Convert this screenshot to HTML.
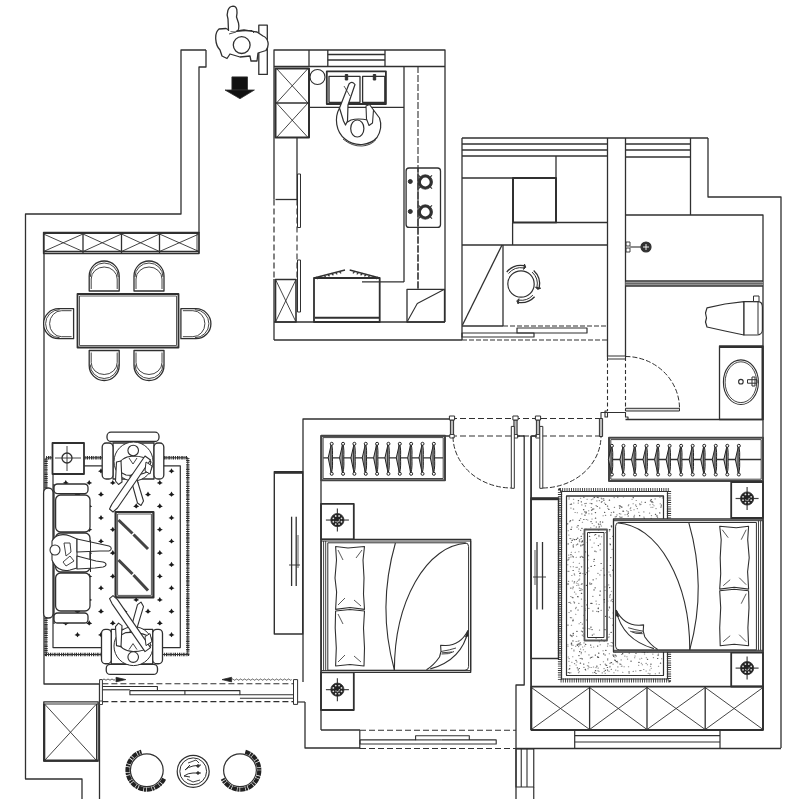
<!DOCTYPE html>
<html><head><meta charset="utf-8">
<style>
html,body{margin:0;padding:0;background:#fff;width:800px;height:799px;overflow:hidden;font-family:"Liberation Sans",sans-serif;}
svg{display:block}
</style></head>
<body>
<svg width="800" height="799" viewBox="0 0 800 799">
<g fill="none" stroke="#303030" stroke-width="1.3" stroke-linejoin="round" stroke-linecap="butt">
<polyline points="206,50 181,50 181,214 25.5,214 25.5,779 82,779 82,799"/>
<polyline points="206,50 206,67 199,67 199,233"/>
<polyline points="44,233 44,684 99.5,684"/>
<line x1="99.5" y1="684" x2="99.5" y2="799"/>
<polyline points="274,199.5 274,50 445,50 445,322"/>
<line x1="274" y1="279" x2="274" y2="340"/>
<line x1="274" y1="66.5" x2="445" y2="66.5"/>
<line x1="309" y1="50" x2="309" y2="66.5"/>
<line x1="327.8" y1="50" x2="327.8" y2="66.5"/>
<line x1="385" y1="50" x2="385" y2="66.5"/>
<line x1="327.8" y1="54.5" x2="385" y2="54.5"/>
<line x1="327.8" y1="60" x2="385" y2="60"/>
<line x1="274" y1="322" x2="445" y2="322"/>
<line x1="274" y1="340" x2="462" y2="340"/>
<line x1="462" y1="138" x2="462" y2="340"/>
<line x1="462" y1="138" x2="708" y2="138"/>
<line x1="462" y1="144" x2="607.5" y2="144"/>
<line x1="462" y1="150" x2="607.5" y2="150"/>
<line x1="462" y1="156" x2="607.5" y2="156"/>
<line x1="607.5" y1="138" x2="607.5" y2="357"/>
<line x1="625.5" y1="138" x2="625.5" y2="357"/>
<line x1="625.5" y1="144" x2="690.5" y2="144"/>
<line x1="625.5" y1="150" x2="690.5" y2="150"/>
<line x1="625.5" y1="157" x2="690.5" y2="157"/>
<line x1="690.5" y1="138" x2="690.5" y2="215"/>
<polyline points="708,138 708,197 781,197 781,748"/>
<polyline points="625.5,215 763,215 763,419.5"/>
<line x1="625.5" y1="419.5" x2="763" y2="419.5"/>
<polyline points="303,682 303,419 451,419"/>
<polyline points="321,730 321,436 451,436"/>
<line x1="531" y1="436" x2="531" y2="730"/>
<polyline points="305,702 305,748 360,748"/>
<line x1="321" y1="730" x2="360" y2="730"/>
<line x1="516" y1="748.5" x2="781" y2="748.5"/>
<line x1="531" y1="730" x2="763" y2="730"/>
<line x1="763" y1="419" x2="763" y2="730"/>
<rect x="43.5" y="232.5" width="155.5" height="21.0"/>
<line x1="43.5" y1="233" x2="199" y2="233" stroke-width="2.0"/>
<line x1="197" y1="233" x2="197" y2="252" stroke-width="0.9"/>
<line x1="43.5" y1="251.5" x2="199" y2="251.5"/>
<line x1="43.5" y1="234" x2="83" y2="251.5" stroke-width="0.9"/>
<line x1="43.5" y1="251.5" x2="83" y2="234" stroke-width="0.9"/>
<line x1="83" y1="232.5" x2="83" y2="253.5"/>
<line x1="83" y1="234" x2="121.5" y2="251.5" stroke-width="0.9"/>
<line x1="83" y1="251.5" x2="121.5" y2="234" stroke-width="0.9"/>
<line x1="121.5" y1="232.5" x2="121.5" y2="253.5"/>
<line x1="121.5" y1="234" x2="159.5" y2="251.5" stroke-width="0.9"/>
<line x1="121.5" y1="251.5" x2="159.5" y2="234" stroke-width="0.9"/>
<line x1="159.5" y1="232.5" x2="159.5" y2="253.5"/>
<line x1="159.5" y1="234" x2="199" y2="251.5" stroke-width="0.9"/>
<line x1="159.5" y1="251.5" x2="199" y2="234" stroke-width="0.9"/>
<line x1="199" y1="232.5" x2="199" y2="253.5"/>
<rect x="77.5" y="294" width="101.0" height="53.5" stroke-width="1.8"/>
<rect x="79.5" y="296" width="97.0" height="49.5" stroke-width="0.8"/>
<g transform="translate(104.2,276) rotate(0)"><path d="M-15,15 L-15,0 A15,15 0 0 1 15,0 L15,15 Z" fill="#fff"/><path d="M-13,13 L-13,3 A13,12 0 0 1 13,3 L13,13" stroke-width="0.9"/><path d="M-14,1 A14,14 0 0 1 14,1" stroke-width="0.9"/></g>
<g transform="translate(149,276) rotate(0)"><path d="M-15,15 L-15,0 A15,15 0 0 1 15,0 L15,15 Z" fill="#fff"/><path d="M-13,13 L-13,3 A13,12 0 0 1 13,3 L13,13" stroke-width="0.9"/><path d="M-14,1 A14,14 0 0 1 14,1" stroke-width="0.9"/></g>
<g transform="translate(104.2,365.5) rotate(180)"><path d="M-15,15 L-15,0 A15,15 0 0 1 15,0 L15,15 Z" fill="#fff"/><path d="M-13,13 L-13,3 A13,12 0 0 1 13,3 L13,13" stroke-width="0.9"/><path d="M-14,1 A14,14 0 0 1 14,1" stroke-width="0.9"/></g>
<g transform="translate(149,365.5) rotate(180)"><path d="M-15,15 L-15,0 A15,15 0 0 1 15,0 L15,15 Z" fill="#fff"/><path d="M-13,13 L-13,3 A13,12 0 0 1 13,3 L13,13" stroke-width="0.9"/><path d="M-14,1 A14,14 0 0 1 14,1" stroke-width="0.9"/></g>
<g transform="translate(58.6,323.7) rotate(-90)"><path d="M-15,15 L-15,0 A15,15 0 0 1 15,0 L15,15 Z" fill="#fff"/><path d="M-13,13 L-13,3 A13,12 0 0 1 13,3 L13,13" stroke-width="0.9"/><path d="M-14,1 A14,14 0 0 1 14,1" stroke-width="0.9"/></g>
<g transform="translate(195.9,323.7) rotate(90)"><path d="M-15,15 L-15,0 A15,15 0 0 1 15,0 L15,15 Z" fill="#fff"/><path d="M-13,13 L-13,3 A13,12 0 0 1 13,3 L13,13" stroke-width="0.9"/><path d="M-14,1 A14,14 0 0 1 14,1" stroke-width="0.9"/></g>
<path d="M46,457.8 L187.8,457.8 L187.8,654.5 L46,654.5 Z" stroke-width="3.4" stroke-dasharray="0.9 1.1 1.4 0.9" stroke="#2a2a2a"/>
<path d="M46,457.8 L187.8,457.8 L187.8,654.5 L46,654.5 Z" stroke-width="1.0" stroke="#333"/>
<rect x="53" y="465.8" width="127.3" height="181.8" stroke-width="1.2"/>
<path d="M74.5,471.3 Q76.7,470.5 77.5,468.2 Q78.3,470.5 80.5,471.3 Q78.3,471.8 77.5,473.4 Q76.7,471.8 74.5,471.3 Z" fill="#1a1a1a" stroke="none"/>
<path d="M98.0,471.3 Q100.2,470.5 101.0,468.2 Q101.8,470.5 104.0,471.3 Q101.8,471.8 101.0,473.4 Q100.2,471.8 98.0,471.3 Z" fill="#1a1a1a" stroke="none"/>
<path d="M121.5,471.3 Q123.7,470.5 124.5,468.2 Q125.3,470.5 127.5,471.3 Q125.3,471.8 124.5,473.4 Q123.7,471.8 121.5,471.3 Z" fill="#1a1a1a" stroke="none"/>
<path d="M145.0,471.3 Q147.2,470.5 148.0,468.2 Q148.8,470.5 151.0,471.3 Q148.8,471.8 148.0,473.4 Q147.2,471.8 145.0,471.3 Z" fill="#1a1a1a" stroke="none"/>
<path d="M168.5,471.3 Q170.7,470.5 171.5,468.2 Q172.3,470.5 174.5,471.3 Q172.3,471.8 171.5,473.4 Q170.7,471.8 168.5,471.3 Z" fill="#1a1a1a" stroke="none"/>
<path d="M62.8,483.0 Q65.0,482.2 65.8,479.9 Q66.6,482.2 68.8,483.0 Q66.6,483.5 65.8,485.09999999999997 Q65.0,483.5 62.8,483.0 Z" fill="#1a1a1a" stroke="none"/>
<path d="M86.2,483.0 Q88.4,482.2 89.2,479.9 Q90.0,482.2 92.2,483.0 Q90.0,483.5 89.2,485.09999999999997 Q88.4,483.5 86.2,483.0 Z" fill="#1a1a1a" stroke="none"/>
<path d="M109.8,483.0 Q112.0,482.2 112.8,479.9 Q113.6,482.2 115.8,483.0 Q113.6,483.5 112.8,485.09999999999997 Q112.0,483.5 109.8,483.0 Z" fill="#1a1a1a" stroke="none"/>
<path d="M133.2,483.0 Q135.39999999999998,482.2 136.2,479.9 Q137.0,482.2 139.2,483.0 Q137.0,483.5 136.2,485.09999999999997 Q135.39999999999998,483.5 133.2,483.0 Z" fill="#1a1a1a" stroke="none"/>
<path d="M156.8,483.0 Q159.0,482.2 159.8,479.9 Q160.60000000000002,482.2 162.8,483.0 Q160.60000000000002,483.5 159.8,485.09999999999997 Q159.0,483.5 156.8,483.0 Z" fill="#1a1a1a" stroke="none"/>
<path d="M74.5,494.7 Q76.7,493.9 77.5,491.59999999999997 Q78.3,493.9 80.5,494.7 Q78.3,495.2 77.5,496.79999999999995 Q76.7,495.2 74.5,494.7 Z" fill="#1a1a1a" stroke="none"/>
<path d="M98.0,494.7 Q100.2,493.9 101.0,491.59999999999997 Q101.8,493.9 104.0,494.7 Q101.8,495.2 101.0,496.79999999999995 Q100.2,495.2 98.0,494.7 Z" fill="#1a1a1a" stroke="none"/>
<path d="M121.5,494.7 Q123.7,493.9 124.5,491.59999999999997 Q125.3,493.9 127.5,494.7 Q125.3,495.2 124.5,496.79999999999995 Q123.7,495.2 121.5,494.7 Z" fill="#1a1a1a" stroke="none"/>
<path d="M145.0,494.7 Q147.2,493.9 148.0,491.59999999999997 Q148.8,493.9 151.0,494.7 Q148.8,495.2 148.0,496.79999999999995 Q147.2,495.2 145.0,494.7 Z" fill="#1a1a1a" stroke="none"/>
<path d="M168.5,494.7 Q170.7,493.9 171.5,491.59999999999997 Q172.3,493.9 174.5,494.7 Q172.3,495.2 171.5,496.79999999999995 Q170.7,495.2 168.5,494.7 Z" fill="#1a1a1a" stroke="none"/>
<path d="M62.8,506.40000000000003 Q65.0,505.6 65.8,503.3 Q66.6,505.6 68.8,506.40000000000003 Q66.6,506.90000000000003 65.8,508.5 Q65.0,506.90000000000003 62.8,506.40000000000003 Z" fill="#1a1a1a" stroke="none"/>
<path d="M86.2,506.40000000000003 Q88.4,505.6 89.2,503.3 Q90.0,505.6 92.2,506.40000000000003 Q90.0,506.90000000000003 89.2,508.5 Q88.4,506.90000000000003 86.2,506.40000000000003 Z" fill="#1a1a1a" stroke="none"/>
<path d="M109.8,506.40000000000003 Q112.0,505.6 112.8,503.3 Q113.6,505.6 115.8,506.40000000000003 Q113.6,506.90000000000003 112.8,508.5 Q112.0,506.90000000000003 109.8,506.40000000000003 Z" fill="#1a1a1a" stroke="none"/>
<path d="M133.2,506.40000000000003 Q135.39999999999998,505.6 136.2,503.3 Q137.0,505.6 139.2,506.40000000000003 Q137.0,506.90000000000003 136.2,508.5 Q135.39999999999998,506.90000000000003 133.2,506.40000000000003 Z" fill="#1a1a1a" stroke="none"/>
<path d="M156.8,506.40000000000003 Q159.0,505.6 159.8,503.3 Q160.60000000000002,505.6 162.8,506.40000000000003 Q160.60000000000002,506.90000000000003 159.8,508.5 Q159.0,506.90000000000003 156.8,506.40000000000003 Z" fill="#1a1a1a" stroke="none"/>
<path d="M74.5,518.0999999999999 Q76.7,517.3 77.5,515.0 Q78.3,517.3 80.5,518.0999999999999 Q78.3,518.5999999999999 77.5,520.1999999999999 Q76.7,518.5999999999999 74.5,518.0999999999999 Z" fill="#1a1a1a" stroke="none"/>
<path d="M98.0,518.0999999999999 Q100.2,517.3 101.0,515.0 Q101.8,517.3 104.0,518.0999999999999 Q101.8,518.5999999999999 101.0,520.1999999999999 Q100.2,518.5999999999999 98.0,518.0999999999999 Z" fill="#1a1a1a" stroke="none"/>
<path d="M121.5,518.0999999999999 Q123.7,517.3 124.5,515.0 Q125.3,517.3 127.5,518.0999999999999 Q125.3,518.5999999999999 124.5,520.1999999999999 Q123.7,518.5999999999999 121.5,518.0999999999999 Z" fill="#1a1a1a" stroke="none"/>
<path d="M145.0,518.0999999999999 Q147.2,517.3 148.0,515.0 Q148.8,517.3 151.0,518.0999999999999 Q148.8,518.5999999999999 148.0,520.1999999999999 Q147.2,518.5999999999999 145.0,518.0999999999999 Z" fill="#1a1a1a" stroke="none"/>
<path d="M168.5,518.0999999999999 Q170.7,517.3 171.5,515.0 Q172.3,517.3 174.5,518.0999999999999 Q172.3,518.5999999999999 171.5,520.1999999999999 Q170.7,518.5999999999999 168.5,518.0999999999999 Z" fill="#1a1a1a" stroke="none"/>
<path d="M62.8,529.8 Q65.0,529.0 65.8,526.7 Q66.6,529.0 68.8,529.8 Q66.6,530.3 65.8,531.9 Q65.0,530.3 62.8,529.8 Z" fill="#1a1a1a" stroke="none"/>
<path d="M86.2,529.8 Q88.4,529.0 89.2,526.7 Q90.0,529.0 92.2,529.8 Q90.0,530.3 89.2,531.9 Q88.4,530.3 86.2,529.8 Z" fill="#1a1a1a" stroke="none"/>
<path d="M109.8,529.8 Q112.0,529.0 112.8,526.7 Q113.6,529.0 115.8,529.8 Q113.6,530.3 112.8,531.9 Q112.0,530.3 109.8,529.8 Z" fill="#1a1a1a" stroke="none"/>
<path d="M133.2,529.8 Q135.39999999999998,529.0 136.2,526.7 Q137.0,529.0 139.2,529.8 Q137.0,530.3 136.2,531.9 Q135.39999999999998,530.3 133.2,529.8 Z" fill="#1a1a1a" stroke="none"/>
<path d="M156.8,529.8 Q159.0,529.0 159.8,526.7 Q160.60000000000002,529.0 162.8,529.8 Q160.60000000000002,530.3 159.8,531.9 Q159.0,530.3 156.8,529.8 Z" fill="#1a1a1a" stroke="none"/>
<path d="M74.5,541.5 Q76.7,540.7 77.5,538.4000000000001 Q78.3,540.7 80.5,541.5 Q78.3,542.0 77.5,543.6 Q76.7,542.0 74.5,541.5 Z" fill="#1a1a1a" stroke="none"/>
<path d="M98.0,541.5 Q100.2,540.7 101.0,538.4000000000001 Q101.8,540.7 104.0,541.5 Q101.8,542.0 101.0,543.6 Q100.2,542.0 98.0,541.5 Z" fill="#1a1a1a" stroke="none"/>
<path d="M121.5,541.5 Q123.7,540.7 124.5,538.4000000000001 Q125.3,540.7 127.5,541.5 Q125.3,542.0 124.5,543.6 Q123.7,542.0 121.5,541.5 Z" fill="#1a1a1a" stroke="none"/>
<path d="M145.0,541.5 Q147.2,540.7 148.0,538.4000000000001 Q148.8,540.7 151.0,541.5 Q148.8,542.0 148.0,543.6 Q147.2,542.0 145.0,541.5 Z" fill="#1a1a1a" stroke="none"/>
<path d="M168.5,541.5 Q170.7,540.7 171.5,538.4000000000001 Q172.3,540.7 174.5,541.5 Q172.3,542.0 171.5,543.6 Q170.7,542.0 168.5,541.5 Z" fill="#1a1a1a" stroke="none"/>
<path d="M62.8,553.1999999999999 Q65.0,552.4 65.8,550.1 Q66.6,552.4 68.8,553.1999999999999 Q66.6,553.6999999999999 65.8,555.3 Q65.0,553.6999999999999 62.8,553.1999999999999 Z" fill="#1a1a1a" stroke="none"/>
<path d="M86.2,553.1999999999999 Q88.4,552.4 89.2,550.1 Q90.0,552.4 92.2,553.1999999999999 Q90.0,553.6999999999999 89.2,555.3 Q88.4,553.6999999999999 86.2,553.1999999999999 Z" fill="#1a1a1a" stroke="none"/>
<path d="M109.8,553.1999999999999 Q112.0,552.4 112.8,550.1 Q113.6,552.4 115.8,553.1999999999999 Q113.6,553.6999999999999 112.8,555.3 Q112.0,553.6999999999999 109.8,553.1999999999999 Z" fill="#1a1a1a" stroke="none"/>
<path d="M133.2,553.1999999999999 Q135.39999999999998,552.4 136.2,550.1 Q137.0,552.4 139.2,553.1999999999999 Q137.0,553.6999999999999 136.2,555.3 Q135.39999999999998,553.6999999999999 133.2,553.1999999999999 Z" fill="#1a1a1a" stroke="none"/>
<path d="M156.8,553.1999999999999 Q159.0,552.4 159.8,550.1 Q160.60000000000002,552.4 162.8,553.1999999999999 Q160.60000000000002,553.6999999999999 159.8,555.3 Q159.0,553.6999999999999 156.8,553.1999999999999 Z" fill="#1a1a1a" stroke="none"/>
<path d="M74.5,564.9 Q76.7,564.1 77.5,561.8000000000001 Q78.3,564.1 80.5,564.9 Q78.3,565.4 77.5,567.0 Q76.7,565.4 74.5,564.9 Z" fill="#1a1a1a" stroke="none"/>
<path d="M98.0,564.9 Q100.2,564.1 101.0,561.8000000000001 Q101.8,564.1 104.0,564.9 Q101.8,565.4 101.0,567.0 Q100.2,565.4 98.0,564.9 Z" fill="#1a1a1a" stroke="none"/>
<path d="M121.5,564.9 Q123.7,564.1 124.5,561.8000000000001 Q125.3,564.1 127.5,564.9 Q125.3,565.4 124.5,567.0 Q123.7,565.4 121.5,564.9 Z" fill="#1a1a1a" stroke="none"/>
<path d="M145.0,564.9 Q147.2,564.1 148.0,561.8000000000001 Q148.8,564.1 151.0,564.9 Q148.8,565.4 148.0,567.0 Q147.2,565.4 145.0,564.9 Z" fill="#1a1a1a" stroke="none"/>
<path d="M168.5,564.9 Q170.7,564.1 171.5,561.8000000000001 Q172.3,564.1 174.5,564.9 Q172.3,565.4 171.5,567.0 Q170.7,565.4 168.5,564.9 Z" fill="#1a1a1a" stroke="none"/>
<path d="M62.8,576.5999999999999 Q65.0,575.8 65.8,573.5 Q66.6,575.8 68.8,576.5999999999999 Q66.6,577.0999999999999 65.8,578.6999999999999 Q65.0,577.0999999999999 62.8,576.5999999999999 Z" fill="#1a1a1a" stroke="none"/>
<path d="M86.2,576.5999999999999 Q88.4,575.8 89.2,573.5 Q90.0,575.8 92.2,576.5999999999999 Q90.0,577.0999999999999 89.2,578.6999999999999 Q88.4,577.0999999999999 86.2,576.5999999999999 Z" fill="#1a1a1a" stroke="none"/>
<path d="M109.8,576.5999999999999 Q112.0,575.8 112.8,573.5 Q113.6,575.8 115.8,576.5999999999999 Q113.6,577.0999999999999 112.8,578.6999999999999 Q112.0,577.0999999999999 109.8,576.5999999999999 Z" fill="#1a1a1a" stroke="none"/>
<path d="M133.2,576.5999999999999 Q135.39999999999998,575.8 136.2,573.5 Q137.0,575.8 139.2,576.5999999999999 Q137.0,577.0999999999999 136.2,578.6999999999999 Q135.39999999999998,577.0999999999999 133.2,576.5999999999999 Z" fill="#1a1a1a" stroke="none"/>
<path d="M156.8,576.5999999999999 Q159.0,575.8 159.8,573.5 Q160.60000000000002,575.8 162.8,576.5999999999999 Q160.60000000000002,577.0999999999999 159.8,578.6999999999999 Q159.0,577.0999999999999 156.8,576.5999999999999 Z" fill="#1a1a1a" stroke="none"/>
<path d="M74.5,588.3 Q76.7,587.5 77.5,585.2 Q78.3,587.5 80.5,588.3 Q78.3,588.8 77.5,590.4 Q76.7,588.8 74.5,588.3 Z" fill="#1a1a1a" stroke="none"/>
<path d="M98.0,588.3 Q100.2,587.5 101.0,585.2 Q101.8,587.5 104.0,588.3 Q101.8,588.8 101.0,590.4 Q100.2,588.8 98.0,588.3 Z" fill="#1a1a1a" stroke="none"/>
<path d="M121.5,588.3 Q123.7,587.5 124.5,585.2 Q125.3,587.5 127.5,588.3 Q125.3,588.8 124.5,590.4 Q123.7,588.8 121.5,588.3 Z" fill="#1a1a1a" stroke="none"/>
<path d="M145.0,588.3 Q147.2,587.5 148.0,585.2 Q148.8,587.5 151.0,588.3 Q148.8,588.8 148.0,590.4 Q147.2,588.8 145.0,588.3 Z" fill="#1a1a1a" stroke="none"/>
<path d="M168.5,588.3 Q170.7,587.5 171.5,585.2 Q172.3,587.5 174.5,588.3 Q172.3,588.8 171.5,590.4 Q170.7,588.8 168.5,588.3 Z" fill="#1a1a1a" stroke="none"/>
<path d="M62.8,600.0 Q65.0,599.2 65.8,596.9000000000001 Q66.6,599.2 68.8,600.0 Q66.6,600.5 65.8,602.1 Q65.0,600.5 62.8,600.0 Z" fill="#1a1a1a" stroke="none"/>
<path d="M86.2,600.0 Q88.4,599.2 89.2,596.9000000000001 Q90.0,599.2 92.2,600.0 Q90.0,600.5 89.2,602.1 Q88.4,600.5 86.2,600.0 Z" fill="#1a1a1a" stroke="none"/>
<path d="M109.8,600.0 Q112.0,599.2 112.8,596.9000000000001 Q113.6,599.2 115.8,600.0 Q113.6,600.5 112.8,602.1 Q112.0,600.5 109.8,600.0 Z" fill="#1a1a1a" stroke="none"/>
<path d="M133.2,600.0 Q135.39999999999998,599.2 136.2,596.9000000000001 Q137.0,599.2 139.2,600.0 Q137.0,600.5 136.2,602.1 Q135.39999999999998,600.5 133.2,600.0 Z" fill="#1a1a1a" stroke="none"/>
<path d="M156.8,600.0 Q159.0,599.2 159.8,596.9000000000001 Q160.60000000000002,599.2 162.8,600.0 Q160.60000000000002,600.5 159.8,602.1 Q159.0,600.5 156.8,600.0 Z" fill="#1a1a1a" stroke="none"/>
<path d="M74.5,611.6999999999999 Q76.7,610.9 77.5,608.6 Q78.3,610.9 80.5,611.6999999999999 Q78.3,612.1999999999999 77.5,613.8 Q76.7,612.1999999999999 74.5,611.6999999999999 Z" fill="#1a1a1a" stroke="none"/>
<path d="M98.0,611.6999999999999 Q100.2,610.9 101.0,608.6 Q101.8,610.9 104.0,611.6999999999999 Q101.8,612.1999999999999 101.0,613.8 Q100.2,612.1999999999999 98.0,611.6999999999999 Z" fill="#1a1a1a" stroke="none"/>
<path d="M121.5,611.6999999999999 Q123.7,610.9 124.5,608.6 Q125.3,610.9 127.5,611.6999999999999 Q125.3,612.1999999999999 124.5,613.8 Q123.7,612.1999999999999 121.5,611.6999999999999 Z" fill="#1a1a1a" stroke="none"/>
<path d="M145.0,611.6999999999999 Q147.2,610.9 148.0,608.6 Q148.8,610.9 151.0,611.6999999999999 Q148.8,612.1999999999999 148.0,613.8 Q147.2,612.1999999999999 145.0,611.6999999999999 Z" fill="#1a1a1a" stroke="none"/>
<path d="M168.5,611.6999999999999 Q170.7,610.9 171.5,608.6 Q172.3,610.9 174.5,611.6999999999999 Q172.3,612.1999999999999 171.5,613.8 Q170.7,612.1999999999999 168.5,611.6999999999999 Z" fill="#1a1a1a" stroke="none"/>
<path d="M62.8,623.4 Q65.0,622.6 65.8,620.3000000000001 Q66.6,622.6 68.8,623.4 Q66.6,623.9 65.8,625.5 Q65.0,623.9 62.8,623.4 Z" fill="#1a1a1a" stroke="none"/>
<path d="M86.2,623.4 Q88.4,622.6 89.2,620.3000000000001 Q90.0,622.6 92.2,623.4 Q90.0,623.9 89.2,625.5 Q88.4,623.9 86.2,623.4 Z" fill="#1a1a1a" stroke="none"/>
<path d="M109.8,623.4 Q112.0,622.6 112.8,620.3000000000001 Q113.6,622.6 115.8,623.4 Q113.6,623.9 112.8,625.5 Q112.0,623.9 109.8,623.4 Z" fill="#1a1a1a" stroke="none"/>
<path d="M133.2,623.4 Q135.39999999999998,622.6 136.2,620.3000000000001 Q137.0,622.6 139.2,623.4 Q137.0,623.9 136.2,625.5 Q135.39999999999998,623.9 133.2,623.4 Z" fill="#1a1a1a" stroke="none"/>
<path d="M156.8,623.4 Q159.0,622.6 159.8,620.3000000000001 Q160.60000000000002,622.6 162.8,623.4 Q160.60000000000002,623.9 159.8,625.5 Q159.0,623.9 156.8,623.4 Z" fill="#1a1a1a" stroke="none"/>
<path d="M74.5,635.0999999999999 Q76.7,634.3 77.5,632.0 Q78.3,634.3 80.5,635.0999999999999 Q78.3,635.5999999999999 77.5,637.1999999999999 Q76.7,635.5999999999999 74.5,635.0999999999999 Z" fill="#1a1a1a" stroke="none"/>
<path d="M98.0,635.0999999999999 Q100.2,634.3 101.0,632.0 Q101.8,634.3 104.0,635.0999999999999 Q101.8,635.5999999999999 101.0,637.1999999999999 Q100.2,635.5999999999999 98.0,635.0999999999999 Z" fill="#1a1a1a" stroke="none"/>
<path d="M121.5,635.0999999999999 Q123.7,634.3 124.5,632.0 Q125.3,634.3 127.5,635.0999999999999 Q125.3,635.5999999999999 124.5,637.1999999999999 Q123.7,635.5999999999999 121.5,635.0999999999999 Z" fill="#1a1a1a" stroke="none"/>
<path d="M145.0,635.0999999999999 Q147.2,634.3 148.0,632.0 Q148.8,634.3 151.0,635.0999999999999 Q148.8,635.5999999999999 148.0,637.1999999999999 Q147.2,635.5999999999999 145.0,635.0999999999999 Z" fill="#1a1a1a" stroke="none"/>
<path d="M168.5,635.0999999999999 Q170.7,634.3 171.5,632.0 Q172.3,634.3 174.5,635.0999999999999 Q172.3,635.5999999999999 171.5,637.1999999999999 Q170.7,635.5999999999999 168.5,635.0999999999999 Z" fill="#1a1a1a" stroke="none"/>
<rect x="52.5" y="443" width="31.5" height="31" stroke-width="1.8" fill="#fff"/>
<circle cx="67" cy="458" r="5" stroke-width="1.3"/>
<line x1="55" y1="458" x2="81" y2="458" stroke-width="0.9"/>
<line x1="67" y1="446" x2="67" y2="471" stroke-width="0.9"/>
<rect x="43.6" y="488" width="9.4" height="130" stroke-width="1.3" fill="#fff" rx="4.5"/>
<line x1="54" y1="484" x2="54" y2="624"/>
<rect x="54" y="484" width="34" height="9.6" stroke-width="1.3" fill="#fff" rx="3.5"/>
<rect x="54" y="613" width="34" height="10" stroke-width="1.3" fill="#fff" rx="3.5"/>
<rect x="55.6" y="495" width="34.4" height="37" stroke-width="1.3" fill="#fff" rx="5"/>
<rect x="55.6" y="533" width="34.4" height="39" stroke-width="1.3" fill="#fff" rx="5"/>
<rect x="55.6" y="573" width="34.4" height="38" stroke-width="1.3" fill="#fff" rx="5"/>
<rect x="115.6" y="512" width="37.8" height="85.4" stroke-width="2.2" fill="#fff"/>
<rect x="117.6" y="514" width="33.8" height="81.4" stroke-width="0.8"/>
<line x1="118.5" y1="520" x2="132.5" y2="533.5" stroke-width="3.0" stroke="#444"/>
<line x1="133.5" y1="534.5" x2="148" y2="549" stroke-width="3.0" stroke="#444"/>
<line x1="118.5" y1="560" x2="132.5" y2="574" stroke-width="3.0" stroke="#444"/>
<line x1="133.5" y1="575" x2="148" y2="590.5" stroke-width="3.0" stroke="#444"/>
<rect x="107" y="432.2" width="52" height="9.3" stroke-width="1.3" fill="#fff" rx="4"/>
<path d="M113,443 L154,443 L154,479 L113,479 Z" stroke-width="1.3" fill="#fff"/>
<path d="M111.25,629.4 L152.75,629.4 L152.75,664 L111.25,664 Z" stroke-width="1.3" fill="#fff"/>
<rect x="106.25" y="664.4" width="51.25" height="10.0" stroke-width="1.3" fill="#fff" rx="4"/>
<rect x="275.5" y="68.5" width="33.5" height="69.0" stroke-width="2.0"/>
<line x1="275.5" y1="103" x2="309" y2="103" stroke-width="1.3"/>
<line x1="276.5" y1="68.5" x2="308" y2="103" stroke-width="0.9"/>
<line x1="276.5" y1="103" x2="308" y2="68.5" stroke-width="0.9"/>
<line x1="276.5" y1="103" x2="308" y2="137.5" stroke-width="0.9"/>
<line x1="276.5" y1="137.5" x2="308" y2="103" stroke-width="0.9"/>
<circle cx="317.5" cy="77" r="7.5" stroke-width="1.1"/>
<rect x="326.8" y="71.3" width="59.1" height="32.7" stroke-width="1.8"/>
<rect x="329" y="76.3" width="31" height="26.0" stroke-width="1.3"/>
<rect x="362.6" y="76.3" width="22.2" height="26.0" stroke-width="1.3"/>
<rect x="345.3" y="74.5" width="2.4" height="5.5" stroke-width="1" fill="#333"/>
<rect x="373.3" y="74.5" width="2.4" height="5.5" stroke-width="1" fill="#333"/>
<line x1="309" y1="107.3" x2="404" y2="107.3"/>
<line x1="404" y1="66" x2="404" y2="282"/>
<line x1="418" y1="66" x2="418" y2="289.3" stroke-width="1.1" stroke-dasharray="7 2"/>
<rect x="406.1" y="168" width="34.4" height="59.4" stroke-width="1.3" rx="3"/>
<circle cx="425.3" cy="182" r="5.8" stroke-width="2.8"/>
<circle cx="425.3" cy="182" r="7.2" stroke-width="0.8"/>
<line x1="429.9" y1="186.6" x2="432.02" y2="188.72" stroke-width="1.1"/>
<line x1="420.7" y1="186.6" x2="418.58" y2="188.72" stroke-width="1.1"/>
<line x1="420.7" y1="177.4" x2="418.58" y2="175.28" stroke-width="1.1"/>
<line x1="429.9" y1="177.4" x2="432.02" y2="175.28" stroke-width="1.1"/>
<circle cx="410.3" cy="181.5" r="2" stroke-width="1" fill="#333"/>
<circle cx="425.3" cy="212" r="5.8" stroke-width="2.8"/>
<circle cx="425.3" cy="212" r="7.2" stroke-width="0.8"/>
<line x1="429.9" y1="216.6" x2="432.02" y2="218.72" stroke-width="1.1"/>
<line x1="420.7" y1="216.6" x2="418.58" y2="218.72" stroke-width="1.1"/>
<line x1="420.7" y1="207.4" x2="418.58" y2="205.28" stroke-width="1.1"/>
<line x1="429.9" y1="207.4" x2="432.02" y2="205.28" stroke-width="1.1"/>
<circle cx="410.3" cy="211.5" r="2" stroke-width="1" fill="#333"/>
<line x1="418" y1="168" x2="418" y2="227.4" stroke-width="1.2"/>
<line x1="418" y1="227" x2="418" y2="289.3" stroke-width="1.1" stroke-dasharray="7 2"/>
<line x1="297" y1="137.5" x2="297" y2="199.5"/>
<line x1="275.5" y1="199.5" x2="297" y2="199.5"/>
<rect x="297.5" y="174" width="3.0" height="53.5" stroke-width="1"/>
<rect x="297.5" y="260" width="3.0" height="52" stroke-width="1"/>
<line x1="274" y1="199.5" x2="274" y2="279.5" stroke-width="1.2" stroke-dasharray="6 3"/>
<line x1="297" y1="199.5" x2="297" y2="279.5" stroke-width="1.1" stroke-dasharray="6 3"/>
<rect x="275.5" y="279.5" width="20.5" height="42.5" stroke-width="1.6"/>
<line x1="275.5" y1="279.5" x2="296" y2="322" stroke-width="0.9"/>
<line x1="275.5" y1="322" x2="296" y2="279.5" stroke-width="0.9"/>
<rect x="314" y="278" width="65.7" height="44" stroke-width="1.8" fill="#fff"/>
<line x1="315" y1="317.8" x2="379" y2="317.8" stroke-width="2"/>
<path d="M314,278 L345,270 M349.7,270 L379.7,278" stroke-width="1.3"/>
<line x1="316.0" y1="277.0" x2="318.0" y2="279.0" stroke-width="1.2"/>
<line x1="378.0" y1="277.0" x2="376.0" y2="279.0" stroke-width="1.2"/>
<line x1="319.85714285714283" y1="276.07142857142856" x2="321.85714285714283" y2="278.07142857142856" stroke-width="1.2"/>
<line x1="374.14285714285717" y1="276.07142857142856" x2="372.14285714285717" y2="278.07142857142856" stroke-width="1.2"/>
<line x1="323.7142857142857" y1="275.14285714285717" x2="325.7142857142857" y2="277.14285714285717" stroke-width="1.2"/>
<line x1="370.2857142857143" y1="275.14285714285717" x2="368.2857142857143" y2="277.14285714285717" stroke-width="1.2"/>
<line x1="327.57142857142856" y1="274.2142857142857" x2="329.57142857142856" y2="276.2142857142857" stroke-width="1.2"/>
<line x1="366.42857142857144" y1="274.2142857142857" x2="364.42857142857144" y2="276.2142857142857" stroke-width="1.2"/>
<line x1="331.42857142857144" y1="273.2857142857143" x2="333.42857142857144" y2="275.2857142857143" stroke-width="1.2"/>
<line x1="362.57142857142856" y1="273.2857142857143" x2="360.57142857142856" y2="275.2857142857143" stroke-width="1.2"/>
<line x1="335.2857142857143" y1="272.35714285714283" x2="337.2857142857143" y2="274.35714285714283" stroke-width="1.2"/>
<line x1="358.7142857142857" y1="272.35714285714283" x2="356.7142857142857" y2="274.35714285714283" stroke-width="1.2"/>
<line x1="339.14285714285717" y1="271.42857142857144" x2="341.14285714285717" y2="273.42857142857144" stroke-width="1.2"/>
<line x1="354.85714285714283" y1="271.42857142857144" x2="352.85714285714283" y2="273.42857142857144" stroke-width="1.2"/>
<line x1="362" y1="281.8" x2="404" y2="281.8"/>
<rect x="407" y="289.3" width="37.5" height="32.7" stroke-width="1.3"/>
<polyline points="444.5,289.3 417.3,303.4 407,322" stroke-width="1.1"/>
<rect x="258.8" y="25.2" width="8.5" height="49.2" stroke-width="1.3"/>
<rect x="231.9" y="76.9" width="15.6" height="13.1" stroke-width="0.8" fill="#111"/>
<path d="M225,90 L254.4,90 L240,98.7 Z" stroke-width="0.8" fill="#111"/>
<path d="M219,29 C214,33 215,45 220,50 L222,56 L227,58.5 L230,54 L240,57 L250,56 L251,61 L257,61 L258,53 L266,50.5 C270,45 268,38 263,36 L257,32 L244,30 L237,31 L231,31 L226,28.5 Z" stroke-width="1.3" fill="#fff"/>
<path d="M228.5,31 L228,19 C226,13 228,6.5 233,6.2 C237.5,6.2 237.5,12 236.5,17 L238.5,23 C239.5,28 238,31 236,31.5" stroke-width="1.3" fill="#fff"/>
<path d="M237,31.2 L252,30.5 L254,33" stroke-width="1.0"/>
<circle cx="241.7" cy="45.1" r="8.4" stroke-width="1.3"/>
<line x1="229" y1="34" x2="236" y2="32" stroke-width="0.9"/>
<path d="M339.5,108 C334,118 336,132 345,139 Q352,145 362,144.5 Q372,143.5 377,137.5 Q383,128 379.5,118 L373.5,110 L371,113 L368,120 Q358,118 351,120 L347.5,122 Z" stroke-width="1.2" fill="#fff"/>
<path d="M339.5,108 L349,84 Q352,80.5 355,84.5 L348,105 L347.5,121 L345.5,125 L343.5,121 Z" stroke-width="1.2" fill="#fff"/>
<path d="M366,106 L369.5,104.5 L373.5,110 L372.5,123 L369,125.5 L366.5,119 Z" stroke-width="1.1" fill="#fff"/>
<ellipse cx="357.3" cy="128.5" rx="6.6" ry="8.5" fill="#fff" stroke-width="1.2"/>
<path d="M343,139 Q352,146.5 362,146 Q371,145.5 376,139.5" stroke-width="0.9"/>
<line x1="344" y1="86" x2="350" y2="96" stroke-width="0.8"/>
<line x1="556" y1="156" x2="556" y2="222.5"/>
<line x1="462" y1="178" x2="556" y2="178"/>
<rect x="513" y="178" width="43" height="44.5" stroke-width="2.0"/>
<line x1="556" y1="222.5" x2="607.5" y2="222.5"/>
<line x1="512.6" y1="222.5" x2="512.6" y2="245"/>
<line x1="462" y1="245" x2="607.5" y2="245"/>
<line x1="503" y1="245" x2="503" y2="326"/>
<line x1="502" y1="245" x2="462.5" y2="325"/>
<circle cx="521" cy="284" r="13.2" stroke-width="1.2"/>
<path d="M508.51,273.52 A16.3,16.3 0 0 1 523.83,267.95" stroke-width="1.0"/>
<path d="M506.75,272.04 A18.6,18.6 0 0 1 524.23,265.68" stroke-width="1.3"/>
<path d="M523.57,269.42 L525.82,267.18 L524.51,264.11 Z" stroke-width="0.9" fill="#333"/>
<path d="M532.12,272.08 A16.3,16.3 0 0 1 536.94,287.39" stroke-width="1.0"/>
<path d="M533.69,270.40 A18.6,18.6 0 0 1 539.19,287.87" stroke-width="1.3"/>
<path d="M535.48,287.08 L537.64,289.41 L540.76,288.20 Z" stroke-width="0.9" fill="#333"/>
<path d="M532.92,295.12 A16.3,16.3 0 0 1 518.73,300.14" stroke-width="1.0"/>
<path d="M534.60,296.69 A18.6,18.6 0 0 1 518.41,302.42" stroke-width="1.3"/>
<path d="M518.94,298.66 L516.77,300.98 L518.19,304.00 Z" stroke-width="0.9" fill="#333"/>
<line x1="462" y1="326" x2="503" y2="326"/>
<line x1="503" y1="326" x2="607.5" y2="326" stroke-width="1.1" stroke-dasharray="5 2"/>
<rect x="517" y="328" width="70" height="5" stroke-width="1.2"/>
<rect x="462" y="333" width="72" height="4" stroke-width="1.2"/>
<line x1="462" y1="340" x2="607.5" y2="340" stroke-width="1.1" stroke-dasharray="5 2"/>
<rect x="626" y="242" width="4" height="4" stroke-width="0.9"/>
<rect x="626" y="248" width="4" height="4" stroke-width="0.9"/>
<line x1="630" y1="247" x2="641" y2="247" stroke-width="1.1"/>
<circle cx="646" cy="247" r="5" stroke-width="1.2" fill="#333"/>
<line x1="643" y1="247" x2="649" y2="247" stroke-width="0.9" stroke="#fff"/>
<line x1="646" y1="244" x2="646" y2="250" stroke-width="0.9" stroke="#fff"/>
<rect x="625.5" y="281.6" width="137.5" height="4" fill="#999" stroke="none"/>
<line x1="625.5" y1="281" x2="763" y2="281" stroke-width="1.3"/>
<line x1="625.5" y1="286" x2="763" y2="286" stroke-width="1.3"/>
<line x1="625.5" y1="283.6" x2="763" y2="283.6" stroke-width="0.8" stroke="#555"/>
<path d="M744,301.6 L725,304 L707,307.8 L705.5,313 L706.5,318 L705.5,322 L707,327 L725,331 L744,335 Z" stroke-width="1.2" fill="#fff"/>
<path d="M744,301.6 L758,301.6 C761,301.6 762.4,304 762.4,307 L762.4,330 C762.4,333 760,335 757,335 L744,335 Z" stroke-width="1.2" fill="#fff"/>
<line x1="758" y1="302" x2="758" y2="334" stroke-width="1.0"/>
<rect x="753.5" y="296" width="5.5" height="5.6" stroke-width="1.0" fill="#fff"/>
<rect x="719.5" y="346" width="43.5" height="73.5" stroke-width="1.3"/>
<line x1="719.5" y1="347" x2="763" y2="347" stroke-width="2.2"/>
<line x1="762.5" y1="346" x2="762.5" y2="419.5" stroke-width="2.0"/>
<ellipse cx="740.9" cy="382.2" rx="17.5" ry="22.3" fill="none" stroke-width="1.1"/>
<ellipse cx="740.9" cy="382.2" rx="15.8" ry="20.4" fill="none" stroke-width="0.9"/>
<circle cx="740.9" cy="381.7" r="2.3" stroke-width="1.1"/>
<rect x="747.5" y="379.7" width="9.5" height="3.5" stroke-width="1.0"/>
<rect x="752" y="377" width="3" height="9" stroke-width="1.0"/>
<rect x="607.5" y="356" width="18.0" height="3" stroke-width="1.0" fill="#fff"/>
<rect x="625.5" y="408.3" width="54.0" height="2.7" stroke-width="1.0" fill="#ddd"/>
<path d="M625.5,356.5 A54,52 0 0 1 679.5,408.3" stroke-width="1.0" stroke-dasharray="5 2"/>
<line x1="607.5" y1="357" x2="607.5" y2="411" stroke-width="1.1" stroke-dasharray="4 2.5"/>
<line x1="625.5" y1="357" x2="625.5" y2="411" stroke-width="1.1" stroke-dasharray="4 2.5"/>
<polyline points="607.5,411 605,411 605,417 607.5,417 607.5,412.5 625.5,412.5 625.5,417 628,417 628,419.5" stroke-width="1.1"/>
<line x1="451" y1="418.5" x2="601" y2="418.5" stroke-width="1.1" stroke-dasharray="6 3"/>
<line x1="451" y1="436" x2="601" y2="436" stroke-width="1.1" stroke-dasharray="6 3"/>
<rect x="450.4" y="420" width="3.2" height="16.5" stroke-width="1.0" fill="#bbb"/>
<rect x="449.4" y="416" width="5.2" height="4" stroke-width="1.0" fill="#fff"/>
<rect x="449.8" y="434.5" width="4.4" height="3.5" stroke-width="0.9" fill="#fff"/>
<rect x="513.9" y="420" width="3.2" height="16.5" stroke-width="1.0" fill="#bbb"/>
<rect x="512.9" y="416" width="5.2" height="4" stroke-width="1.0" fill="#fff"/>
<rect x="513.3" y="434.5" width="4.4" height="3.5" stroke-width="0.9" fill="#fff"/>
<rect x="536.4" y="420" width="3.2" height="16.5" stroke-width="1.0" fill="#bbb"/>
<rect x="535.4" y="416" width="5.2" height="4" stroke-width="1.0" fill="#fff"/>
<rect x="535.8" y="434.5" width="4.4" height="3.5" stroke-width="0.9" fill="#fff"/>
<rect x="599.4" y="418.5" width="3.2" height="18.0" stroke-width="1.0" fill="#bbb"/>
<polyline points="601,418.5 601,412.5 607.5,412.5" stroke-width="1.1"/>
<rect x="511.3" y="426.4" width="3.0" height="61.9" stroke-width="1.0" fill="#fff"/>
<rect x="539.8" y="426.4" width="3.0" height="61.9" stroke-width="1.0" fill="#fff"/>
<path d="M453,437 A59,52 0 0 0 511,488" stroke-width="1.0" stroke-dasharray="5 2"/>
<path d="M543,488 A59,52 0 0 0 601,437" stroke-width="1.0" stroke-dasharray="5 2"/>
<polyline points="517,436 524.2,436 524.2,685 516,685 516,799" stroke-width="1.3"/>
<polyline points="537,436 531.2,436 531.2,730" stroke-width="1.3"/>
<rect x="321.3" y="435.8" width="123.7" height="44.5" stroke-width="2.0" stroke="#444"/>
<rect x="323.1" y="437.6" width="120.1" height="40.9" stroke-width="0.9"/>
<line x1="323.3" y1="457.8" x2="443" y2="457.8" stroke-width="1.3"/>
<path d="M331.4,443.8 C332.9,447.8 332.59999999999997,453.8 332.4,457.8 C332.59999999999997,461.8 332.9,468.3 331.4,473.3 L328.2,457.8 Z" stroke-width="1.0" fill="#aaa" stroke="#222"/>
<line x1="330.9" y1="444.8" x2="330.9" y2="472.3" stroke-width="1.0"/>
<circle cx="331.7" cy="443.8" r="1.5" stroke-width="1.0" fill="#fff" stroke="#222"/>
<circle cx="331.7" cy="473.8" r="1.5" stroke-width="1.0" fill="#fff" stroke="#222"/>
<path d="M342.75,443.8 C344.25,447.8 343.95,453.8 343.75,457.8 C343.95,461.8 344.25,468.3 342.75,473.3 L339.55,457.8 Z" stroke-width="1.0" fill="#aaa" stroke="#222"/>
<line x1="342.25" y1="444.8" x2="342.25" y2="472.3" stroke-width="1.0"/>
<circle cx="343.05" cy="443.8" r="1.5" stroke-width="1.0" fill="#fff" stroke="#222"/>
<circle cx="343.05" cy="473.8" r="1.5" stroke-width="1.0" fill="#fff" stroke="#222"/>
<path d="M354.1,443.8 C355.6,447.8 355.3,453.8 355.1,457.8 C355.3,461.8 355.6,468.3 354.1,473.3 L350.90000000000003,457.8 Z" stroke-width="1.0" fill="#aaa" stroke="#222"/>
<line x1="353.6" y1="444.8" x2="353.6" y2="472.3" stroke-width="1.0"/>
<circle cx="354.40000000000003" cy="443.8" r="1.5" stroke-width="1.0" fill="#fff" stroke="#222"/>
<circle cx="354.40000000000003" cy="473.8" r="1.5" stroke-width="1.0" fill="#fff" stroke="#222"/>
<path d="M365.45,443.8 C366.95,447.8 366.65,453.8 366.45,457.8 C366.65,461.8 366.95,468.3 365.45,473.3 L362.25,457.8 Z" stroke-width="1.0" fill="#aaa" stroke="#222"/>
<line x1="364.95" y1="444.8" x2="364.95" y2="472.3" stroke-width="1.0"/>
<circle cx="365.75" cy="443.8" r="1.5" stroke-width="1.0" fill="#fff" stroke="#222"/>
<circle cx="365.75" cy="473.8" r="1.5" stroke-width="1.0" fill="#fff" stroke="#222"/>
<path d="M376.8,443.8 C378.3,447.8 378.0,453.8 377.8,457.8 C378.0,461.8 378.3,468.3 376.8,473.3 L373.6,457.8 Z" stroke-width="1.0" fill="#aaa" stroke="#222"/>
<line x1="376.3" y1="444.8" x2="376.3" y2="472.3" stroke-width="1.0"/>
<circle cx="377.1" cy="443.8" r="1.5" stroke-width="1.0" fill="#fff" stroke="#222"/>
<circle cx="377.1" cy="473.8" r="1.5" stroke-width="1.0" fill="#fff" stroke="#222"/>
<path d="M388.15,443.8 C389.65,447.8 389.34999999999997,453.8 389.15,457.8 C389.34999999999997,461.8 389.65,468.3 388.15,473.3 L384.95,457.8 Z" stroke-width="1.0" fill="#aaa" stroke="#222"/>
<line x1="387.65" y1="444.8" x2="387.65" y2="472.3" stroke-width="1.0"/>
<circle cx="388.45" cy="443.8" r="1.5" stroke-width="1.0" fill="#fff" stroke="#222"/>
<circle cx="388.45" cy="473.8" r="1.5" stroke-width="1.0" fill="#fff" stroke="#222"/>
<path d="M399.5,443.8 C401.0,447.8 400.7,453.8 400.5,457.8 C400.7,461.8 401.0,468.3 399.5,473.3 L396.3,457.8 Z" stroke-width="1.0" fill="#aaa" stroke="#222"/>
<line x1="399.0" y1="444.8" x2="399.0" y2="472.3" stroke-width="1.0"/>
<circle cx="399.8" cy="443.8" r="1.5" stroke-width="1.0" fill="#fff" stroke="#222"/>
<circle cx="399.8" cy="473.8" r="1.5" stroke-width="1.0" fill="#fff" stroke="#222"/>
<path d="M410.85,443.8 C412.35,447.8 412.05,453.8 411.85,457.8 C412.05,461.8 412.35,468.3 410.85,473.3 L407.65000000000003,457.8 Z" stroke-width="1.0" fill="#aaa" stroke="#222"/>
<line x1="410.35" y1="444.8" x2="410.35" y2="472.3" stroke-width="1.0"/>
<circle cx="411.15000000000003" cy="443.8" r="1.5" stroke-width="1.0" fill="#fff" stroke="#222"/>
<circle cx="411.15000000000003" cy="473.8" r="1.5" stroke-width="1.0" fill="#fff" stroke="#222"/>
<path d="M422.2,443.8 C423.7,447.8 423.4,453.8 423.2,457.8 C423.4,461.8 423.7,468.3 422.2,473.3 L419.0,457.8 Z" stroke-width="1.0" fill="#aaa" stroke="#222"/>
<line x1="421.7" y1="444.8" x2="421.7" y2="472.3" stroke-width="1.0"/>
<circle cx="422.5" cy="443.8" r="1.5" stroke-width="1.0" fill="#fff" stroke="#222"/>
<circle cx="422.5" cy="473.8" r="1.5" stroke-width="1.0" fill="#fff" stroke="#222"/>
<path d="M433.55,443.8 C435.05,447.8 434.75,453.8 434.55,457.8 C434.75,461.8 435.05,468.3 433.55,473.3 L430.35,457.8 Z" stroke-width="1.0" fill="#aaa" stroke="#222"/>
<line x1="433.05" y1="444.8" x2="433.05" y2="472.3" stroke-width="1.0"/>
<circle cx="433.85" cy="443.8" r="1.5" stroke-width="1.0" fill="#fff" stroke="#222"/>
<circle cx="433.85" cy="473.8" r="1.5" stroke-width="1.0" fill="#fff" stroke="#222"/>
<rect x="274.3" y="471.6" width="28.4" height="162.4" stroke-width="1.4"/>
<line x1="274.3" y1="472.6" x2="302.7" y2="472.6" stroke-width="2.4"/>
<line x1="291.6" y1="516.7" x2="291.6" y2="586" stroke-width="1.3"/>
<line x1="296.2" y1="516.7" x2="296.2" y2="586" stroke-width="1.3"/>
<line x1="298" y1="535" x2="298" y2="568" stroke-width="1.6" stroke="#999"/>
<line x1="289" y1="565" x2="300" y2="565" stroke-width="0.9"/>
<rect x="321" y="503.8" width="32.8" height="35.5" stroke-width="1.8"/>
<line x1="325.9" y1="520.05" x2="348.9" y2="520.05" stroke-width="1.2" stroke="#444"/>
<line x1="337.4" y1="508.54999999999995" x2="337.4" y2="531.55" stroke-width="1.2" stroke="#444"/>
<circle cx="337.4" cy="520.05" r="6.6" stroke-width="0.8" fill="#222"/>
<circle cx="341.47" cy="521.73" r="0.9" fill="#ddd" stroke="none"/>
<circle cx="339.08" cy="524.12" r="0.9" fill="#ddd" stroke="none"/>
<circle cx="335.72" cy="524.12" r="0.9" fill="#ddd" stroke="none"/>
<circle cx="333.33" cy="521.73" r="0.9" fill="#ddd" stroke="none"/>
<circle cx="333.33" cy="518.37" r="0.9" fill="#ddd" stroke="none"/>
<circle cx="335.72" cy="515.98" r="0.9" fill="#ddd" stroke="none"/>
<circle cx="339.08" cy="515.98" r="0.9" fill="#ddd" stroke="none"/>
<circle cx="341.47" cy="518.37" r="0.9" fill="#ddd" stroke="none"/>
<circle cx="339.4" cy="520.05" r="0.7" fill="#bbb" stroke="none"/>
<circle cx="338.81" cy="521.46" r="0.7" fill="#bbb" stroke="none"/>
<circle cx="337.4" cy="522.05" r="0.7" fill="#bbb" stroke="none"/>
<circle cx="335.99" cy="521.46" r="0.7" fill="#bbb" stroke="none"/>
<rect x="321" y="672.3" width="32.8" height="37.7" stroke-width="1.8"/>
<line x1="325.9" y1="689.65" x2="348.9" y2="689.65" stroke-width="1.2" stroke="#444"/>
<line x1="337.4" y1="678.15" x2="337.4" y2="701.15" stroke-width="1.2" stroke="#444"/>
<circle cx="337.4" cy="689.65" r="6.6" stroke-width="0.8" fill="#222"/>
<circle cx="341.47" cy="691.33" r="0.9" fill="#ddd" stroke="none"/>
<circle cx="339.08" cy="693.72" r="0.9" fill="#ddd" stroke="none"/>
<circle cx="335.72" cy="693.72" r="0.9" fill="#ddd" stroke="none"/>
<circle cx="333.33" cy="691.33" r="0.9" fill="#ddd" stroke="none"/>
<circle cx="333.33" cy="687.97" r="0.9" fill="#ddd" stroke="none"/>
<circle cx="335.72" cy="685.58" r="0.9" fill="#ddd" stroke="none"/>
<circle cx="339.08" cy="685.58" r="0.9" fill="#ddd" stroke="none"/>
<circle cx="341.47" cy="687.97" r="0.9" fill="#ddd" stroke="none"/>
<circle cx="339.4" cy="689.65" r="0.7" fill="#bbb" stroke="none"/>
<circle cx="338.81" cy="691.06" r="0.7" fill="#bbb" stroke="none"/>
<circle cx="337.4" cy="691.65" r="0.7" fill="#bbb" stroke="none"/>
<circle cx="335.99" cy="691.06" r="0.7" fill="#bbb" stroke="none"/>
<g id="bed1">
<rect x="321.2" y="539.3" width="149.5" height="133.0" stroke-width="1.3" fill="#fff"/>
<rect x="321.2" y="541" width="149.5" height="129.6" stroke-width="1.0"/>
<path d="M327.8,542.8 L465,542.8 Q468.6,542.8 468.6,546.5 L468.6,666.5 Q468.6,670.2 465,670.2 L327.8,670.2 Z" stroke-width="1.0"/>
<line x1="323.6" y1="541" x2="323.6" y2="670.6" stroke-width="0.9"/>
<line x1="325.7" y1="541" x2="325.7" y2="670.6" stroke-width="0.9"/>
<path d="M335.6,546.5 L348,548 L364.5,546.5 L363,560 L364,578 L363.5,594 L364.5,609.4 L350,607.5 L335.6,609.4 L336.6,592 L335,578 L336.5,560 Z" stroke-width="1.1" fill="#fff"/>
<path d="M335.6,611 L350,609.5 L364.5,611 L363.5,628 L364.5,648 L364,666 L350,664.5 L335.6,666 L336.3,648 L335.2,628 Z" stroke-width="1.1" fill="#fff"/>
<line x1="338" y1="550" x2="343" y2="560" stroke-width="0.8"/>
<line x1="362" y1="550" x2="356" y2="558" stroke-width="0.8"/>
<line x1="338" y1="605" x2="345" y2="598" stroke-width="0.8"/>
<line x1="361" y1="606" x2="354" y2="600" stroke-width="0.8"/>
<line x1="338" y1="614" x2="343" y2="624" stroke-width="0.8"/>
<line x1="338" y1="662" x2="345" y2="655" stroke-width="0.8"/>
<line x1="361" y1="662" x2="354" y2="656" stroke-width="0.8"/>
<path d="M395.4,543 Q377,607 394.4,670" stroke-width="1.1"/>
<path d="M466,543.3 A74.2,127 0 0 0 394.4,670.2" stroke-width="1.1"/>
<path d="M468.2,630.3 Q462,660 430.3,668.9" stroke-width="1.1"/>
<path d="M468.2,630.3 Q460,646 445,645.5 L440.6,645.2 L441,651.5 L439.5,657 Q434,665 426.5,669.8" stroke-width="1.1"/>
<path d="M441,651.5 Q450,650 456,648 M441.5,654 Q449,654.5 454,651.5 M442,652.8 L452,652" stroke-width="0.9"/>
<path d="M467.5,631 L468.2,636 L465.5,637 Z" stroke-width="0.8" fill="#222"/>
</g>
<line x1="360" y1="730.25" x2="516" y2="730.25" stroke-width="1.1" stroke-dasharray="6 3"/>
<line x1="360" y1="748.5" x2="516" y2="748.5" stroke-width="1.1" stroke-dasharray="6 3"/>
<line x1="359.8" y1="730.25" x2="359.8" y2="748.5" stroke-width="1.2"/>
<polyline points="360,739.9 415.6,739.9 415.6,735.75 469.3,735.75 469.3,739.9" stroke-width="1.1"/>
<polyline points="360,739.9 360,744 496.2,744 496.2,739.9 441.8,739.9" stroke-width="1.1"/>
<line x1="415.6" y1="739.9" x2="441.8" y2="739.9" stroke-width="1.1"/>
<rect x="609" y="437.8" width="154" height="43.2" stroke-width="2.0" stroke="#444"/>
<rect x="610.8" y="439.6" width="150.4" height="39.6" stroke-width="0.9"/>
<line x1="611" y1="459.5" x2="761" y2="459.5" stroke-width="1.3"/>
<path d="M611.6,445.8 C613.1,449.8 612.8000000000001,455.5 612.6,459.5 C612.8000000000001,463.5 613.1,469 611.6,474 L608.4,459.5 Z" stroke-width="1.0" fill="#aaa" stroke="#222"/>
<line x1="611.1" y1="446.8" x2="611.1" y2="473" stroke-width="1.0"/>
<circle cx="611.9" cy="445.8" r="1.5" stroke-width="1.0" fill="#fff" stroke="#222"/>
<circle cx="611.9" cy="474.5" r="1.5" stroke-width="1.0" fill="#fff" stroke="#222"/>
<path d="M623.14,445.8 C624.64,449.8 624.34,455.5 624.14,459.5 C624.34,463.5 624.64,469 623.14,474 L619.9399999999999,459.5 Z" stroke-width="1.0" fill="#aaa" stroke="#222"/>
<line x1="622.64" y1="446.8" x2="622.64" y2="473" stroke-width="1.0"/>
<circle cx="623.4399999999999" cy="445.8" r="1.5" stroke-width="1.0" fill="#fff" stroke="#222"/>
<circle cx="623.4399999999999" cy="474.5" r="1.5" stroke-width="1.0" fill="#fff" stroke="#222"/>
<path d="M634.68,445.8 C636.18,449.8 635.88,455.5 635.68,459.5 C635.88,463.5 636.18,469 634.68,474 L631.4799999999999,459.5 Z" stroke-width="1.0" fill="#aaa" stroke="#222"/>
<line x1="634.18" y1="446.8" x2="634.18" y2="473" stroke-width="1.0"/>
<circle cx="634.9799999999999" cy="445.8" r="1.5" stroke-width="1.0" fill="#fff" stroke="#222"/>
<circle cx="634.9799999999999" cy="474.5" r="1.5" stroke-width="1.0" fill="#fff" stroke="#222"/>
<path d="M646.22,445.8 C647.72,449.8 647.4200000000001,455.5 647.22,459.5 C647.4200000000001,463.5 647.72,469 646.22,474 L643.02,459.5 Z" stroke-width="1.0" fill="#aaa" stroke="#222"/>
<line x1="645.72" y1="446.8" x2="645.72" y2="473" stroke-width="1.0"/>
<circle cx="646.52" cy="445.8" r="1.5" stroke-width="1.0" fill="#fff" stroke="#222"/>
<circle cx="646.52" cy="474.5" r="1.5" stroke-width="1.0" fill="#fff" stroke="#222"/>
<path d="M657.76,445.8 C659.26,449.8 658.96,455.5 658.76,459.5 C658.96,463.5 659.26,469 657.76,474 L654.56,459.5 Z" stroke-width="1.0" fill="#aaa" stroke="#222"/>
<line x1="657.26" y1="446.8" x2="657.26" y2="473" stroke-width="1.0"/>
<circle cx="658.06" cy="445.8" r="1.5" stroke-width="1.0" fill="#fff" stroke="#222"/>
<circle cx="658.06" cy="474.5" r="1.5" stroke-width="1.0" fill="#fff" stroke="#222"/>
<path d="M669.3,445.8 C670.8,449.8 670.5,455.5 670.3,459.5 C670.5,463.5 670.8,469 669.3,474 L666.0999999999999,459.5 Z" stroke-width="1.0" fill="#aaa" stroke="#222"/>
<line x1="668.8" y1="446.8" x2="668.8" y2="473" stroke-width="1.0"/>
<circle cx="669.5999999999999" cy="445.8" r="1.5" stroke-width="1.0" fill="#fff" stroke="#222"/>
<circle cx="669.5999999999999" cy="474.5" r="1.5" stroke-width="1.0" fill="#fff" stroke="#222"/>
<path d="M680.84,445.8 C682.34,449.8 682.0400000000001,455.5 681.84,459.5 C682.0400000000001,463.5 682.34,469 680.84,474 L677.64,459.5 Z" stroke-width="1.0" fill="#aaa" stroke="#222"/>
<line x1="680.34" y1="446.8" x2="680.34" y2="473" stroke-width="1.0"/>
<circle cx="681.14" cy="445.8" r="1.5" stroke-width="1.0" fill="#fff" stroke="#222"/>
<circle cx="681.14" cy="474.5" r="1.5" stroke-width="1.0" fill="#fff" stroke="#222"/>
<path d="M692.38,445.8 C693.88,449.8 693.58,455.5 693.38,459.5 C693.58,463.5 693.88,469 692.38,474 L689.18,459.5 Z" stroke-width="1.0" fill="#aaa" stroke="#222"/>
<line x1="691.88" y1="446.8" x2="691.88" y2="473" stroke-width="1.0"/>
<circle cx="692.68" cy="445.8" r="1.5" stroke-width="1.0" fill="#fff" stroke="#222"/>
<circle cx="692.68" cy="474.5" r="1.5" stroke-width="1.0" fill="#fff" stroke="#222"/>
<path d="M703.92,445.8 C705.42,449.8 705.12,455.5 704.92,459.5 C705.12,463.5 705.42,469 703.92,474 L700.7199999999999,459.5 Z" stroke-width="1.0" fill="#aaa" stroke="#222"/>
<line x1="703.42" y1="446.8" x2="703.42" y2="473" stroke-width="1.0"/>
<circle cx="704.2199999999999" cy="445.8" r="1.5" stroke-width="1.0" fill="#fff" stroke="#222"/>
<circle cx="704.2199999999999" cy="474.5" r="1.5" stroke-width="1.0" fill="#fff" stroke="#222"/>
<path d="M715.46,445.8 C716.96,449.8 716.6600000000001,455.5 716.46,459.5 C716.6600000000001,463.5 716.96,469 715.46,474 L712.26,459.5 Z" stroke-width="1.0" fill="#aaa" stroke="#222"/>
<line x1="714.96" y1="446.8" x2="714.96" y2="473" stroke-width="1.0"/>
<circle cx="715.76" cy="445.8" r="1.5" stroke-width="1.0" fill="#fff" stroke="#222"/>
<circle cx="715.76" cy="474.5" r="1.5" stroke-width="1.0" fill="#fff" stroke="#222"/>
<path d="M727.0,445.8 C728.5,449.8 728.2,455.5 728.0,459.5 C728.2,463.5 728.5,469 727.0,474 L723.8,459.5 Z" stroke-width="1.0" fill="#aaa" stroke="#222"/>
<line x1="726.5" y1="446.8" x2="726.5" y2="473" stroke-width="1.0"/>
<circle cx="727.3" cy="445.8" r="1.5" stroke-width="1.0" fill="#fff" stroke="#222"/>
<circle cx="727.3" cy="474.5" r="1.5" stroke-width="1.0" fill="#fff" stroke="#222"/>
<path d="M738.54,445.8 C740.04,449.8 739.74,455.5 739.54,459.5 C739.74,463.5 740.04,469 738.54,474 L735.3399999999999,459.5 Z" stroke-width="1.0" fill="#aaa" stroke="#222"/>
<line x1="738.04" y1="446.8" x2="738.04" y2="473" stroke-width="1.0"/>
<circle cx="738.8399999999999" cy="445.8" r="1.5" stroke-width="1.0" fill="#fff" stroke="#222"/>
<circle cx="738.8399999999999" cy="474.5" r="1.5" stroke-width="1.0" fill="#fff" stroke="#222"/>
<rect x="531" y="498" width="27.5" height="160.5" stroke-width="1.4"/>
<line x1="531" y1="499" x2="558.5" y2="499" stroke-width="2.4"/>
<line x1="537" y1="542" x2="537" y2="609.5" stroke-width="1.3"/>
<line x1="542.5" y1="542" x2="542.5" y2="609.5" stroke-width="1.3"/>
<line x1="535" y1="550" x2="535" y2="585" stroke-width="1.6" stroke="#999"/>
<line x1="533" y1="577" x2="546" y2="577" stroke-width="0.9"/>
<rect x="731.2" y="482" width="31.8" height="36" stroke-width="1.8"/>
<line x1="735.6" y1="498.5" x2="758.6" y2="498.5" stroke-width="1.2" stroke="#444"/>
<line x1="747.1" y1="487.0" x2="747.1" y2="510.0" stroke-width="1.2" stroke="#444"/>
<circle cx="747.1" cy="498.5" r="6.6" stroke-width="0.8" fill="#222"/>
<circle cx="751.17" cy="500.18" r="0.9" fill="#ddd" stroke="none"/>
<circle cx="748.78" cy="502.57" r="0.9" fill="#ddd" stroke="none"/>
<circle cx="745.42" cy="502.57" r="0.9" fill="#ddd" stroke="none"/>
<circle cx="743.03" cy="500.18" r="0.9" fill="#ddd" stroke="none"/>
<circle cx="743.03" cy="496.82" r="0.9" fill="#ddd" stroke="none"/>
<circle cx="745.42" cy="494.43" r="0.9" fill="#ddd" stroke="none"/>
<circle cx="748.78" cy="494.43" r="0.9" fill="#ddd" stroke="none"/>
<circle cx="751.17" cy="496.82" r="0.9" fill="#ddd" stroke="none"/>
<circle cx="749.1" cy="498.5" r="0.7" fill="#bbb" stroke="none"/>
<circle cx="748.51" cy="499.91" r="0.7" fill="#bbb" stroke="none"/>
<circle cx="747.1" cy="500.5" r="0.7" fill="#bbb" stroke="none"/>
<circle cx="745.69" cy="499.91" r="0.7" fill="#bbb" stroke="none"/>
<rect x="731.2" y="652.7" width="31.8" height="33.8" stroke-width="1.8"/>
<line x1="735.6" y1="668.1" x2="758.6" y2="668.1" stroke-width="1.2" stroke="#444"/>
<line x1="747.1" y1="656.6" x2="747.1" y2="679.6" stroke-width="1.2" stroke="#444"/>
<circle cx="747.1" cy="668.1" r="6.6" stroke-width="0.8" fill="#222"/>
<circle cx="751.17" cy="669.78" r="0.9" fill="#ddd" stroke="none"/>
<circle cx="748.78" cy="672.17" r="0.9" fill="#ddd" stroke="none"/>
<circle cx="745.42" cy="672.17" r="0.9" fill="#ddd" stroke="none"/>
<circle cx="743.03" cy="669.78" r="0.9" fill="#ddd" stroke="none"/>
<circle cx="743.03" cy="666.42" r="0.9" fill="#ddd" stroke="none"/>
<circle cx="745.42" cy="664.03" r="0.9" fill="#ddd" stroke="none"/>
<circle cx="748.78" cy="664.03" r="0.9" fill="#ddd" stroke="none"/>
<circle cx="751.17" cy="666.42" r="0.9" fill="#ddd" stroke="none"/>
<circle cx="749.1" cy="668.1" r="0.7" fill="#bbb" stroke="none"/>
<circle cx="748.51" cy="669.51" r="0.7" fill="#bbb" stroke="none"/>
<circle cx="747.1" cy="670.1" r="0.7" fill="#bbb" stroke="none"/>
<circle cx="745.69" cy="669.51" r="0.7" fill="#bbb" stroke="none"/>
<defs><pattern id="stip" width="13" height="13" patternUnits="userSpaceOnUse"><circle cx="1" cy="2" r="0.55" fill="#888"/><circle cx="7" cy="1.3" r="0.5" fill="#999"/><circle cx="4" cy="7" r="0.55" fill="#888"/><circle cx="10.5" cy="5.5" r="0.5" fill="#999"/><circle cx="8.3" cy="11" r="0.55" fill="#888"/><circle cx="1.5" cy="11.5" r="0.45" fill="#aaa"/></pattern></defs>
<path d="M560,490 L669,490 L669,680.5 L560,680.5 Z" stroke-width="4.2" stroke-dasharray="0.9 1.3" stroke="#333"/>
<path d="M561.5,491.5 L667.5,491.5 L667.5,679 L561.5,679 Z" stroke-width="1.2" stroke="#333"/>
<rect x="566.5" y="496" width="97.0" height="179.5" stroke-width="1.1" fill="#fff"/>
<path d="M598.3,523.8h.3M574.4,592.1h.3M588.7,608.4h.3M578.7,551.8h.3M584.7,600.2h.3M622.1,590.2h.3M636.8,548.1h.3M578.7,571.2h.3M631.0,632.7h.3M650.7,552.7h.3M624.0,599.9h.3M647.3,664.7h.3M630.6,507.8h.3M629.0,673.3h.3M610.2,594.5h.3M607.0,560.7h.3M567.9,571.4h.3M621.3,666.2h.3M616.5,606.6h.3M572.6,656.7h.3M650.6,638.6h.3M605.4,515.4h.3M602.0,501.5h.3M648.1,673.3h.3M569.7,665.8h.3M617.7,670.7h.3M633.6,543.3h.3M583.4,634.0h.3M598.8,536.6h.3M648.5,640.1h.3M637.8,537.2h.3M594.0,543.0h.3M610.0,663.3h.3M626.8,656.8h.3M613.0,612.9h.3M575.6,614.3h.3M641.8,630.1h.3M643.6,669.5h.3M605.6,665.1h.3M646.0,671.0h.3M568.9,669.3h.3M617.5,662.7h.3M623.2,543.0h.3M580.0,658.5h.3M611.0,600.5h.3M607.5,659.9h.3M643.4,527.6h.3M616.7,595.6h.3M593.8,634.1h.3M639.7,659.0h.3M625.7,586.7h.3M633.3,577.3h.3M612.9,664.1h.3M620.7,664.4h.3M580.5,518.6h.3M631.1,636.1h.3M582.2,624.1h.3M581.1,653.7h.3M588.4,666.1h.3M613.8,672.7h.3M582.8,573.6h.3M636.1,500.5h.3M661.1,636.9h.3M607.6,658.8h.3M592.1,523.5h.3M573.0,619.2h.3M574.4,663.6h.3M643.7,511.9h.3M573.8,650.1h.3M639.7,548.5h.3M591.3,499.7h.3M619.8,530.6h.3M656.3,515.9h.3M608.6,584.9h.3M604.8,586.9h.3M600.1,644.7h.3M575.5,646.3h.3M609.9,543.7h.3M659.2,551.9h.3M567.6,564.7h.3M615.3,532.7h.3M596.4,538.3h.3M638.8,613.7h.3M661.0,523.5h.3M628.6,504.8h.3M652.2,608.4h.3M644.7,521.7h.3M615.4,645.2h.3M646.0,600.7h.3M570.5,520.6h.3M577.5,645.4h.3M627.1,608.2h.3M614.0,497.6h.3M638.6,586.3h.3M630.1,508.7h.3M636.8,533.4h.3M660.2,584.7h.3M613.0,618.4h.3M581.5,542.1h.3M573.3,544.7h.3M616.6,579.5h.3M611.1,642.5h.3M657.3,534.4h.3M581.0,590.0h.3M580.1,642.6h.3M567.8,584.3h.3M655.5,623.6h.3M662.4,601.6h.3M616.0,530.7h.3M658.3,654.0h.3M627.4,659.1h.3M637.1,577.0h.3M655.5,519.6h.3M600.1,549.9h.3M582.9,533.9h.3M614.7,536.1h.3M621.6,654.5h.3M606.7,570.5h.3M659.4,519.3h.3M609.9,666.3h.3M634.9,656.0h.3M623.3,497.0h.3M655.5,643.5h.3M582.2,589.7h.3M656.9,625.1h.3M640.2,578.2h.3M579.7,541.7h.3M617.3,600.5h.3M596.1,578.8h.3M591.0,667.5h.3M596.7,500.9h.3M570.7,557.0h.3M632.3,532.2h.3M659.6,552.3h.3M588.7,571.0h.3M573.2,566.8h.3M651.4,627.1h.3M630.6,564.2h.3M659.1,533.8h.3M645.5,642.9h.3M572.2,581.0h.3M654.9,531.3h.3M652.7,502.4h.3M570.8,508.1h.3M593.4,667.0h.3M593.7,497.7h.3M654.6,609.5h.3M569.8,538.5h.3M658.4,666.3h.3M655.7,529.5h.3M637.7,643.0h.3M573.6,503.0h.3M598.4,671.0h.3M576.7,585.5h.3M610.0,538.6h.3M626.4,616.7h.3M647.4,549.1h.3M605.1,673.2h.3M589.5,640.5h.3M577.2,581.3h.3M659.9,600.5h.3M602.9,650.7h.3M568.6,555.1h.3M577.1,567.2h.3M621.3,560.4h.3M649.6,673.9h.3M568.1,657.0h.3M645.4,569.1h.3M619.9,610.7h.3M576.0,607.4h.3M614.1,639.9h.3M586.2,519.5h.3M655.5,565.9h.3M642.2,536.4h.3M588.2,568.0h.3M579.2,540.9h.3M652.7,504.3h.3M639.5,503.8h.3M578.7,603.4h.3M627.1,551.4h.3M622.8,572.6h.3M640.0,635.4h.3M628.0,511.6h.3M615.4,564.1h.3M580.4,649.1h.3M660.8,584.3h.3M654.5,526.3h.3M655.9,508.6h.3M639.3,525.2h.3M656.5,617.6h.3M617.9,609.9h.3M650.4,595.5h.3M651.3,515.6h.3M627.3,567.0h.3M592.7,672.8h.3M645.4,542.0h.3M661.0,601.0h.3M581.7,606.3h.3M601.4,536.8h.3M581.7,514.0h.3M650.3,635.8h.3M592.6,499.0h.3M620.9,559.2h.3M609.7,663.3h.3M586.5,604.9h.3M596.0,505.6h.3M647.7,629.3h.3M599.4,630.1h.3M635.1,544.2h.3M608.9,636.9h.3M589.9,629.0h.3M590.2,658.1h.3M633.3,615.1h.3M612.1,646.0h.3M649.0,574.6h.3M626.6,510.8h.3M570.2,504.4h.3M627.7,620.7h.3M573.7,601.8h.3M645.2,642.5h.3M573.8,651.0h.3M578.1,503.1h.3M644.6,609.6h.3M591.9,547.2h.3M598.0,668.1h.3M649.4,513.1h.3M614.1,584.2h.3M646.5,543.3h.3M594.5,535.1h.3M642.4,620.7h.3M627.2,560.1h.3M592.5,657.0h.3M611.3,591.3h.3M598.5,524.6h.3M609.2,634.3h.3M579.5,579.0h.3M585.5,670.1h.3M604.0,671.6h.3M604.4,503.0h.3M642.6,620.1h.3M624.9,568.8h.3M653.8,573.3h.3M636.1,653.2h.3M634.0,648.3h.3M627.2,514.4h.3M641.8,623.6h.3M626.5,569.7h.3M655.9,529.5h.3M641.4,566.0h.3M660.1,503.8h.3M582.8,635.8h.3M616.8,514.9h.3M618.9,624.3h.3M628.2,644.1h.3M632.5,566.7h.3M579.1,671.7h.3M572.9,545.7h.3M568.8,571.3h.3M588.8,628.6h.3M587.6,520.0h.3M644.4,609.6h.3M620.9,537.1h.3M601.0,610.4h.3M612.0,549.2h.3M579.4,645.0h.3M648.3,544.5h.3M608.2,610.1h.3M646.2,657.8h.3M580.8,644.6h.3M568.9,499.0h.3M581.1,538.5h.3M600.4,524.1h.3M642.7,526.8h.3M625.3,635.7h.3M652.4,636.9h.3M586.3,620.0h.3M609.2,653.7h.3M614.3,507.4h.3M581.2,584.2h.3M647.4,580.1h.3M630.7,646.2h.3M625.4,618.2h.3M598.9,671.3h.3M649.4,562.0h.3M608.8,572.0h.3M646.0,549.0h.3M615.6,670.1h.3M595.9,601.1h.3M571.3,625.3h.3M568.1,530.7h.3M625.3,613.8h.3M653.9,605.6h.3M627.0,620.6h.3M632.2,534.7h.3M584.7,503.6h.3M654.3,613.4h.3M645.6,636.6h.3M597.8,573.4h.3M578.8,640.8h.3M604.3,602.1h.3M569.0,497.8h.3M635.8,540.0h.3M585.3,505.9h.3M635.3,648.9h.3M575.5,608.6h.3M568.9,612.5h.3M575.1,552.2h.3M583.3,649.8h.3M573.2,562.2h.3M643.2,561.5h.3M627.3,571.2h.3M642.2,664.7h.3M660.0,621.8h.3M599.0,604.5h.3M624.6,551.8h.3M651.9,563.9h.3M624.7,656.1h.3M607.6,601.1h.3M571.5,644.9h.3M648.4,640.2h.3M625.2,617.3h.3M587.1,542.2h.3M611.2,512.6h.3M640.9,538.3h.3M652.7,654.1h.3M585.8,529.1h.3M621.1,568.4h.3M581.7,504.9h.3M603.0,515.8h.3M642.3,524.7h.3M570.7,672.8h.3M641.5,572.6h.3M640.4,642.3h.3M620.5,651.5h.3M658.6,542.7h.3M628.4,666.8h.3M571.2,542.4h.3M653.3,657.6h.3M572.0,636.6h.3M581.3,631.0h.3M631.8,550.0h.3M591.9,519.0h.3M631.9,499.2h.3M586.0,503.4h.3M588.5,662.8h.3M651.9,521.8h.3M576.7,661.9h.3M645.7,581.8h.3M650.2,544.3h.3M582.3,545.1h.3M599.3,526.8h.3M660.5,507.1h.3M631.0,534.5h.3M602.1,672.9h.3M652.6,507.2h.3M567.7,644.7h.3M575.0,512.5h.3M625.7,622.6h.3M637.1,569.4h.3M647.5,650.4h.3M569.0,658.6h.3M616.9,576.1h.3M579.0,623.8h.3M649.7,554.0h.3M650.4,666.3h.3M616.3,591.2h.3M624.4,599.3h.3M634.3,515.3h.3M646.0,663.4h.3M607.4,646.1h.3M605.1,664.1h.3M608.9,671.2h.3M654.2,641.7h.3M572.6,588.8h.3M656.3,541.2h.3M627.6,561.7h.3M574.1,573.9h.3M569.5,521.7h.3M641.3,663.3h.3M644.4,654.0h.3M632.0,545.5h.3M616.9,574.0h.3M624.0,666.7h.3M575.8,594.0h.3M625.4,598.2h.3M619.6,605.8h.3M616.2,565.0h.3M568.6,559.6h.3M588.9,667.3h.3M582.2,556.8h.3M631.7,606.4h.3M645.5,588.9h.3M638.1,631.8h.3M642.1,622.8h.3M640.2,601.0h.3M659.0,598.5h.3M642.0,651.9h.3M636.2,549.0h.3M642.3,647.8h.3M581.3,599.1h.3M647.6,645.8h.3M572.0,597.3h.3M654.9,634.3h.3M662.3,588.8h.3M632.6,566.1h.3M624.0,559.3h.3M603.1,568.2h.3M651.1,668.2h.3M609.3,607.9h.3M597.7,670.7h.3M616.2,516.6h.3M633.0,642.6h.3M584.8,608.8h.3M647.5,601.1h.3M628.9,591.3h.3M577.0,527.3h.3M645.7,605.8h.3M573.4,499.2h.3M652.1,600.4h.3M571.7,662.2h.3M597.4,656.5h.3M596.3,604.0h.3M657.7,540.1h.3M650.7,583.0h.3M590.6,527.8h.3M620.8,517.4h.3M579.2,643.6h.3M590.0,503.2h.3M599.9,524.7h.3M576.3,544.9h.3M579.6,575.7h.3M644.0,525.3h.3M636.1,563.9h.3M587.3,665.8h.3M634.6,543.3h.3M625.3,534.7h.3M579.2,588.1h.3M648.3,554.0h.3M577.9,596.8h.3M635.6,547.1h.3M653.8,634.6h.3M570.3,617.6h.3M600.9,570.2h.3M591.1,647.3h.3M654.2,627.3h.3M571.2,552.2h.3M584.6,646.0h.3M635.6,542.2h.3M571.6,648.6h.3M642.7,534.3h.3M638.7,512.3h.3M576.0,665.0h.3M655.9,619.8h.3M646.3,608.5h.3M572.7,620.9h.3M639.9,504.8h.3M644.0,543.4h.3M659.6,610.2h.3M591.2,507.5h.3M580.5,622.5h.3M590.1,539.9h.3M651.5,522.2h.3M599.2,641.7h.3M583.6,615.3h.3M635.6,671.0h.3M577.8,583.8h.3M654.9,611.4h.3M585.1,610.3h.3M583.5,636.3h.3M621.4,608.5h.3M634.5,657.7h.3M632.9,526.0h.3M609.3,530.9h.3M567.8,646.2h.3M630.4,588.3h.3M599.7,574.9h.3M611.2,669.4h.3M649.7,670.0h.3M621.8,666.1h.3M630.2,563.0h.3M607.1,591.1h.3M578.4,529.0h.3M619.6,516.9h.3M591.6,513.9h.3M621.9,517.1h.3M623.4,511.2h.3M574.5,575.0h.3M619.8,623.8h.3M578.4,672.8h.3M577.2,644.4h.3M583.8,667.4h.3M641.1,521.3h.3M573.0,539.1h.3M651.9,607.3h.3M621.0,659.9h.3M640.0,617.8h.3M579.2,563.2h.3M624.9,514.7h.3M643.8,517.1h.3M609.9,645.8h.3M643.6,529.9h.3M581.2,652.4h.3M633.0,640.5h.3M615.2,652.0h.3M570.9,529.4h.3M632.1,566.7h.3M582.5,647.0h.3M598.8,535.4h.3M571.6,527.1h.3M611.9,599.4h.3M601.1,498.1h.3M599.2,500.6h.3M615.0,543.5h.3M617.7,666.9h.3M570.7,596.5h.3M650.4,634.4h.3M643.1,651.9h.3M632.2,551.0h.3M637.8,587.3h.3M661.4,582.5h.3M580.4,498.3h.3M610.5,576.1h.3M596.1,551.8h.3M656.6,557.4h.3M622.6,672.3h.3M641.1,573.0h.3M573.9,583.0h.3M605.5,532.6h.3M629.1,531.9h.3M580.5,530.4h.3M650.7,610.6h.3M587.7,555.0h.3M627.0,556.4h.3M624.3,542.6h.3M568.8,661.2h.3M661.3,506.9h.3M582.3,522.3h.3M576.0,641.5h.3M618.7,601.5h.3M637.9,542.8h.3M640.9,670.5h.3M568.4,581.4h.3M641.0,561.3h.3M660.8,585.6h.3M637.2,508.6h.3M621.1,569.8h.3M589.5,533.1h.3M621.6,524.8h.3M650.1,544.4h.3M632.4,603.1h.3M651.4,561.0h.3M649.5,529.4h.3M654.1,523.8h.3M576.8,527.0h.3M576.1,557.3h.3M635.6,653.5h.3M570.6,538.6h.3M633.0,503.7h.3M651.0,518.4h.3M632.6,523.3h.3M615.1,516.9h.3M587.9,668.7h.3M615.8,569.4h.3M601.9,498.9h.3M629.5,593.6h.3M633.1,671.4h.3M607.3,669.7h.3M662.3,497.9h.3M655.5,542.2h.3M578.5,646.6h.3M653.8,505.8h.3M659.8,497.2h.3M648.6,587.5h.3M662.0,538.6h.3M638.1,564.2h.3M604.9,590.4h.3M625.7,544.0h.3M612.5,625.1h.3M655.6,590.9h.3M583.9,642.9h.3M628.3,643.9h.3M649.9,504.7h.3M601.4,639.6h.3M575.9,567.2h.3M633.5,576.8h.3M632.1,562.1h.3M607.7,637.6h.3M571.7,575.5h.3M635.2,549.4h.3M629.1,640.9h.3M659.8,623.4h.3M639.3,564.3h.3M614.7,657.0h.3M569.9,602.2h.3M611.4,646.0h.3M612.5,655.0h.3M614.2,587.8h.3M631.2,628.4h.3M571.4,617.7h.3M588.5,510.7h.3M577.2,512.7h.3M621.1,506.8h.3M633.1,571.2h.3M662.3,642.0h.3M581.3,556.3h.3M649.1,595.6h.3M649.8,639.4h.3M618.5,563.4h.3M614.0,600.6h.3M643.6,532.5h.3M618.1,569.6h.3M635.0,639.4h.3M610.7,662.9h.3M650.9,507.2h.3M628.2,505.7h.3M655.1,596.6h.3M614.8,616.6h.3M576.5,636.2h.3M622.8,553.6h.3M647.4,524.0h.3M619.3,513.6h.3M636.7,573.3h.3M655.2,673.8h.3M638.8,585.1h.3M576.3,583.0h.3M580.8,545.1h.3M647.8,537.3h.3M570.6,603.3h.3M600.2,664.6h.3M572.3,556.1h.3M620.6,514.0h.3M642.4,602.7h.3M628.9,520.4h.3M647.5,652.0h.3M581.7,513.7h.3M578.6,585.1h.3M618.4,587.0h.3M579.6,539.6h.3M657.1,583.7h.3M570.4,566.8h.3M622.5,538.5h.3M626.2,619.8h.3M655.0,498.9h.3M588.4,555.8h.3M642.7,582.2h.3M641.5,658.2h.3M628.0,532.3h.3M659.2,616.4h.3M580.3,644.0h.3M653.5,629.2h.3M643.7,601.8h.3M645.9,636.2h.3M595.9,667.6h.3M657.4,517.6h.3M642.3,541.7h.3M590.0,584.4h.3M635.0,566.6h.3M642.9,618.2h.3M624.0,645.4h.3M578.0,641.2h.3M587.8,559.8h.3M634.1,575.5h.3M644.2,518.4h.3M593.3,667.0h.3M588.8,654.9h.3M652.4,567.0h.3M658.3,586.9h.3M657.3,577.7h.3M620.0,650.0h.3M603.3,661.8h.3M630.8,510.5h.3M609.7,667.0h.3M630.3,609.2h.3M617.1,617.1h.3M614.8,561.6h.3M572.9,645.2h.3M620.5,576.5h.3M652.2,626.4h.3M639.9,548.7h.3M607.5,670.6h.3M644.0,617.1h.3M659.0,623.0h.3M593.9,525.7h.3M580.8,588.6h.3M603.9,668.6h.3M653.8,576.9h.3M581.9,631.4h.3M620.6,616.0h.3M593.7,561.4h.3M640.8,504.3h.3M621.3,559.8h.3M619.6,630.8h.3M596.7,611.4h.3M633.2,634.5h.3M585.1,651.7h.3M617.0,615.8h.3M606.8,586.1h.3M622.4,568.7h.3M593.5,647.0h.3M647.1,523.8h.3M639.1,585.9h.3M652.9,628.9h.3M634.4,621.9h.3M593.6,508.9h.3M588.8,513.7h.3M660.1,639.4h.3M633.9,509.8h.3M598.4,497.6h.3M609.8,595.5h.3M642.9,534.1h.3M641.4,502.0h.3M607.8,508.2h.3M636.3,600.8h.3M649.9,673.7h.3M658.8,555.5h.3M610.6,618.2h.3M637.4,588.6h.3M592.7,596.4h.3M638.5,665.3h.3M587.0,499.3h.3M601.3,526.0h.3M584.1,560.1h.3M582.1,635.0h.3M661.6,658.8h.3M577.8,597.0h.3M653.8,623.1h.3M660.7,574.5h.3M568.7,535.0h.3M603.5,498.6h.3M598.2,607.9h.3M610.9,600.9h.3M636.3,506.5h.3M629.2,619.8h.3M581.0,658.4h.3" stroke="#888" stroke-width="1.1" stroke-linecap="round"/>
<path d="M573.0,587.1h.3M608.7,509.4h.3M607.8,643.8h.3M605.2,670.3h.3M649.1,548.4h.3M619.5,508.1h.3M596.0,638.0h.3M581.9,583.8h.3M594.5,565.5h.3M611.4,526.8h.3M573.1,633.4h.3M591.0,566.4h.3M645.3,650.4h.3M581.8,528.3h.3M589.7,583.1h.3M573.4,509.0h.3M582.9,557.4h.3M567.5,523.8h.3M625.8,523.4h.3M613.5,512.2h.3M600.1,544.0h.3M581.4,593.4h.3M601.3,502.1h.3M658.2,561.7h.3M583.7,519.5h.3M653.5,640.2h.3M650.3,643.6h.3M618.0,589.9h.3M609.3,529.5h.3M636.4,595.8h.3M577.6,596.5h.3M650.8,664.2h.3M574.4,539.7h.3M609.3,500.2h.3M626.8,587.9h.3M577.5,544.1h.3M641.5,545.0h.3M621.7,621.3h.3M599.7,595.2h.3M579.8,590.5h.3M577.9,525.7h.3M627.9,568.8h.3M572.7,520.0h.3M637.9,542.4h.3M631.2,547.0h.3M659.9,594.1h.3M568.0,543.9h.3M605.5,504.4h.3M651.0,566.1h.3M632.4,620.1h.3M591.5,510.2h.3M626.1,611.1h.3M633.3,616.9h.3M578.8,655.6h.3M660.4,663.2h.3M610.2,544.7h.3M651.8,621.8h.3M652.8,583.3h.3M596.2,522.0h.3M597.5,646.1h.3M638.8,645.9h.3M577.2,645.2h.3M656.4,541.3h.3M619.7,624.7h.3M628.7,547.8h.3M620.4,567.0h.3M662.2,576.9h.3M585.8,513.1h.3M576.2,539.4h.3M599.6,508.0h.3M627.3,650.2h.3M650.4,500.9h.3M659.9,541.1h.3M571.3,635.9h.3M654.9,611.6h.3M633.9,516.9h.3M651.5,581.4h.3M631.6,571.6h.3M630.9,661.2h.3M637.7,586.6h.3M589.4,536.3h.3M657.9,585.0h.3M581.4,566.8h.3M660.0,522.2h.3M656.0,555.4h.3M656.4,629.5h.3M599.0,527.0h.3M594.1,559.4h.3M644.6,633.1h.3M591.9,629.6h.3M625.2,555.2h.3M661.3,544.0h.3M648.0,614.9h.3M651.5,599.6h.3M647.4,659.3h.3M595.4,518.2h.3M592.2,635.1h.3M624.1,607.0h.3M602.5,522.1h.3M591.7,603.4h.3M643.1,594.3h.3M628.2,513.2h.3M633.6,569.7h.3M596.7,666.2h.3M611.3,525.9h.3M615.4,522.9h.3M617.0,661.3h.3M660.2,582.7h.3M626.4,643.4h.3M647.9,644.2h.3M609.9,574.8h.3M626.3,583.9h.3M579.7,573.4h.3M609.5,587.6h.3M641.4,587.8h.3M637.0,641.7h.3M615.2,660.3h.3M571.0,529.3h.3M597.2,497.3h.3M616.2,656.0h.3M567.7,560.0h.3M580.3,663.2h.3M591.1,657.4h.3M618.0,569.1h.3M573.0,635.2h.3M619.8,664.0h.3M644.8,528.0h.3M641.9,624.0h.3M638.0,577.3h.3M577.5,538.2h.3M592.7,611.0h.3M651.1,499.7h.3M598.6,653.2h.3M621.7,551.6h.3M581.2,501.8h.3M655.8,558.2h.3M657.2,516.0h.3M627.5,548.0h.3M576.8,631.4h.3M648.4,606.7h.3M606.7,574.5h.3M634.4,592.5h.3M583.7,497.2h.3M639.9,670.6h.3M577.9,610.0h.3M605.0,655.0h.3M651.9,501.5h.3M603.5,653.9h.3M639.0,611.7h.3M630.4,628.7h.3M634.3,646.8h.3M582.3,540.9h.3M617.1,525.6h.3M577.2,667.8h.3M637.2,574.2h.3M628.1,516.0h.3M627.6,579.2h.3M638.7,571.8h.3M628.4,577.6h.3M606.5,665.3h.3M633.8,559.5h.3M567.8,625.1h.3M655.7,648.7h.3M629.8,541.4h.3M618.8,650.2h.3M607.3,667.5h.3M628.0,609.9h.3M613.5,656.3h.3M635.7,608.0h.3M617.4,633.8h.3M642.7,555.7h.3M619.3,505.8h.3M611.0,632.4h.3M572.7,597.7h.3M654.8,576.2h.3M612.7,570.2h.3M628.7,534.7h.3M579.1,668.5h.3M650.1,519.9h.3M611.3,662.5h.3M659.1,624.3h.3M609.2,617.1h.3M621.3,548.9h.3M594.4,497.3h.3M649.9,598.5h.3M654.3,558.6h.3M620.1,638.5h.3M638.8,662.4h.3M612.8,601.6h.3M613.7,597.7h.3M591.6,503.7h.3M584.7,511.8h.3M657.5,658.5h.3M624.3,567.5h.3M659.2,673.0h.3M628.9,671.9h.3M639.5,515.7h.3M627.2,577.3h.3M581.1,536.3h.3M635.3,595.2h.3M597.7,657.3h.3M655.4,514.3h.3M595.4,670.7h.3M644.2,557.5h.3M585.2,574.3h.3M621.8,521.5h.3M640.7,623.3h.3M614.6,545.6h.3M622.9,532.9h.3M572.8,640.9h.3M650.3,544.3h.3M646.5,562.2h.3M569.5,668.7h.3M584.8,515.2h.3M645.1,502.3h.3M633.9,531.6h.3M635.6,505.0h.3M614.4,585.9h.3M579.1,569.0h.3M623.7,649.8h.3M621.9,629.5h.3M570.8,610.9h.3M655.3,607.3h.3M594.8,551.2h.3M593.0,579.8h.3M579.3,520.3h.3M594.6,672.3h.3M640.9,525.1h.3M650.3,575.1h.3M604.3,575.1h.3M579.6,651.6h.3M620.3,565.2h.3M609.7,529.7h.3M575.9,660.3h.3M586.9,572.7h.3M631.8,590.2h.3M600.1,591.1h.3M651.9,571.7h.3M595.0,587.8h.3M661.9,610.0h.3M633.1,497.7h.3M586.2,585.4h.3M622.1,570.0h.3M582.4,631.8h.3M653.4,600.4h.3M610.2,565.5h.3M609.3,607.1h.3M635.8,536.3h.3M585.2,669.4h.3M623.3,562.3h.3M630.0,597.8h.3M604.5,512.3h.3M615.0,549.7h.3M649.3,520.5h.3M627.2,529.2h.3M571.3,504.1h.3M632.5,559.0h.3M646.8,634.8h.3M572.0,540.4h.3M604.9,629.7h.3M616.1,661.7h.3M656.4,559.4h.3M640.3,644.5h.3M573.2,546.9h.3M634.2,576.5h.3M583.5,509.7h.3M661.8,630.2h.3M656.3,612.8h.3M590.9,521.6h.3M641.1,646.0h.3M598.5,529.8h.3M646.5,539.5h.3M614.5,585.7h.3M659.6,512.9h.3M642.3,572.5h.3M653.4,526.2h.3M609.6,597.0h.3M586.1,512.1h.3M626.4,641.0h.3M631.8,605.1h.3M629.0,550.1h.3M651.6,501.9h.3M632.0,576.4h.3M591.4,583.8h.3M568.9,602.5h.3M657.6,625.1h.3M631.6,542.2h.3M578.3,500.7h.3M568.8,557.8h.3M650.4,605.4h.3M661.2,505.1h.3M631.2,545.4h.3M627.8,561.4h.3M573.2,556.9h.3M596.2,527.0h.3M622.9,511.2h.3M583.1,544.6h.3M659.0,603.7h.3M644.4,652.4h.3M573.0,570.5h.3M636.3,555.4h.3M629.9,603.8h.3M640.0,634.7h.3M593.9,589.9h.3M570.2,520.8h.3M615.2,595.6h.3M656.8,561.9h.3M584.4,628.0h.3M570.3,635.1h.3M598.3,657.4h.3M605.7,650.4h.3M657.3,608.3h.3M595.9,673.5h.3M645.7,547.2h.3M613.6,655.1h.3M622.5,653.7h.3M662.0,549.8h.3M578.1,669.9h.3M569.4,672.9h.3M580.4,573.1h.3M614.6,660.1h.3M637.0,545.5h.3M592.6,509.2h.3M635.7,567.9h.3M598.3,611.7h.3M598.1,608.6h.3M612.8,536.3h.3M617.6,641.4h.3M646.6,642.2h.3M582.1,541.6h.3M643.3,631.7h.3M603.7,500.2h.3M621.7,507.2h.3M635.7,545.7h.3M590.5,645.1h.3M627.9,649.5h.3M604.1,599.7h.3M630.7,555.5h.3M640.6,633.7h.3M635.1,582.7h.3M568.1,672.5h.3M607.4,506.1h.3M620.3,506.1h.3M598.2,545.6h.3M574.3,602.8h.3M595.5,534.5h.3M654.7,533.7h.3M653.6,618.7h.3M572.9,620.5h.3M646.9,549.1h.3M582.1,658.9h.3M660.6,566.5h.3M578.4,644.1h.3M617.5,548.6h.3M624.3,593.0h.3M642.3,549.9h.3M570.7,588.1h.3M601.0,563.5h.3M583.6,664.1h.3M578.7,580.0h.3M615.2,655.1h.3M621.7,619.3h.3M638.8,524.3h.3M595.2,655.1h.3M642.0,623.2h.3M590.8,603.4h.3M590.8,627.2h.3M600.2,521.9h.3M647.8,636.6h.3M635.7,559.0h.3M645.9,569.1h.3M629.5,645.4h.3M567.9,583.8h.3M625.0,578.2h.3M595.3,512.6h.3M571.4,643.1h.3M585.5,644.4h.3M617.6,497.1h.3M570.8,554.7h.3M658.0,655.2h.3M623.3,599.4h.3M604.8,629.7h.3M646.0,637.9h.3M582.9,628.1h.3M597.1,506.5h.3M585.3,551.9h.3M659.0,544.4h.3M628.0,635.2h.3M656.8,628.8h.3M580.2,557.1h.3M629.1,653.0h.3M645.8,545.5h.3M580.7,545.8h.3M571.3,643.9h.3M644.3,592.3h.3M616.1,601.5h.3M574.3,581.8h.3M610.7,557.6h.3M636.1,624.7h.3M636.1,608.9h.3M661.7,551.3h.3M610.7,515.1h.3M612.7,642.9h.3M604.0,641.1h.3M642.2,579.3h.3M652.0,591.8h.3M628.2,533.5h.3M653.6,564.9h.3M623.7,519.4h.3M634.7,575.0h.3M605.5,616.4h.3" stroke="#555" stroke-width="1.2" stroke-linecap="round"/>
<rect x="566.5" y="496" width="97.0" height="179.5" stroke-width="1.1"/>
<rect x="584.5" y="529.5" width="22.5" height="111.0" stroke-width="1.8" stroke="#555"/>
<rect x="587.5" y="532.5" width="16.5" height="105.0" stroke-width="1.0"/>
<use href="#bed1" transform="translate(1084.2,-20.3) scale(-1,1)"/>
<rect x="531.4" y="686.7" width="231.6" height="43.3" stroke-width="1.8"/>
<line x1="531.4" y1="687.5" x2="589.6" y2="729.5" stroke-width="0.9"/>
<line x1="531.4" y1="729.5" x2="589.6" y2="687.5" stroke-width="0.9"/>
<line x1="589.6" y1="686.7" x2="589.6" y2="730" stroke-width="1.3"/>
<line x1="589.6" y1="687.5" x2="647" y2="729.5" stroke-width="0.9"/>
<line x1="589.6" y1="729.5" x2="647" y2="687.5" stroke-width="0.9"/>
<line x1="647" y1="686.7" x2="647" y2="730" stroke-width="1.3"/>
<line x1="647" y1="687.5" x2="705.2" y2="729.5" stroke-width="0.9"/>
<line x1="647" y1="729.5" x2="705.2" y2="687.5" stroke-width="0.9"/>
<line x1="705.2" y1="686.7" x2="705.2" y2="730" stroke-width="1.3"/>
<line x1="705.2" y1="687.5" x2="763" y2="729.5" stroke-width="0.9"/>
<line x1="705.2" y1="729.5" x2="763" y2="687.5" stroke-width="0.9"/>
<line x1="763" y1="686.7" x2="763" y2="730" stroke-width="1.3"/>
<line x1="574.7" y1="735.6" x2="720" y2="735.6" stroke-width="1.2"/>
<line x1="574.7" y1="742" x2="720" y2="742" stroke-width="1.2"/>
<line x1="574.7" y1="730" x2="574.7" y2="748" stroke-width="1.2"/>
<line x1="720" y1="730" x2="720" y2="748" stroke-width="1.2"/>
<rect x="516" y="749" width="17.75" height="38" stroke-width="1.2"/>
<line x1="521.25" y1="749" x2="521.25" y2="787" stroke-width="1.1"/>
<line x1="527" y1="749" x2="527" y2="787" stroke-width="1.1"/>
<line x1="533.75" y1="787" x2="533.75" y2="799" stroke-width="1.2"/>
<rect x="99.6" y="679.6" width="2.8" height="23.4" stroke-width="1.0" fill="#fff"/>
<rect x="293.5" y="679.6" width="4.1" height="24.8" stroke-width="1.0" fill="#fff"/>
<line x1="102.4" y1="683.75" x2="293.5" y2="683.75" stroke-width="1.1" stroke-dasharray="6 3"/>
<line x1="102.4" y1="701.6" x2="293.5" y2="701.6" stroke-width="1.1" stroke-dasharray="6 3"/>
<polyline points="102.4,686.5 157.4,686.5 157.4,690.6" stroke-width="1.1"/>
<line x1="102.4" y1="689.8" x2="129.9" y2="689.8" stroke-width="1.1"/>
<polyline points="129.9,690.6 239.9,690.6 239.9,694.75 293.5,694.75" stroke-width="1.1"/>
<polyline points="129.9,690.6 129.9,694.75 239.9,694.75" stroke-width="1.1"/>
<line x1="184.9" y1="690.6" x2="184.9" y2="694.75" stroke-width="1.1"/>
<line x1="239.9" y1="698.3" x2="293.5" y2="698.3" stroke-width="1.1"/>
<polyline points="297.6,702 305,702" stroke-width="1.2"/>
<path d="M103,679.6 q1,-1.2 2,0 q1,1.2 2,0 q1,-1.2 2,0 q1,1.2 2,0 q1,-1.2 2,0 q1,1.2 2,0" stroke-width="0.8"/>
<path d="M116,677.3 L125.8,679.6 L116,681.9 Z" stroke-width="0.8" fill="#222"/>
<path d="M231.6,679.6 q1,-1.2 2,0 q1,1.2 2,0 q1,-1.2 2,0 q1,1.2 2,0 q1,-1.2 2,0 q1,1.2 2,0 q1,-1.2 2,0 q1,1.2 2,0 q1,-1.2 2,0 q1,1.2 2,0 q1,-1.2 2,0 q1,1.2 2,0 q1,-1.2 2,0 q1,1.2 2,0 q1,-1.2 2,0 q1,1.2 2,0 q1,-1.2 2,0 q1,1.2 2,0 q1,-1.2 2,0 q1,1.2 2,0 q1,-1.2 2,0 q1,1.2 2,0 q1,-1.2 2,0 q1,1.2 2,0 q1,-1.2 2,0 q1,1.2 2,0 q1,-1.2 2,0 q1,1.2 2,0 q1,-1.2 2,0 q1,1.2 2,0" stroke-width="0.8"/>
<path d="M231.6,677.3 L222,679.6 L231.6,681.9 Z" stroke-width="0.8" fill="#222"/>
<rect x="43.8" y="701.8" width="54.4" height="59.4" stroke-width="1.3"/>
<line x1="43.8" y1="704" x2="98.2" y2="704" stroke-width="1.1"/>
<line x1="44.2" y1="704" x2="44.2" y2="761.2" stroke-width="2.2"/>
<line x1="43.8" y1="760.6" x2="98.2" y2="760.6" stroke-width="2.2"/>
<line x1="96.5" y1="704" x2="96.5" y2="761.2" stroke-width="1.0"/>
<line x1="45" y1="704.5" x2="96" y2="760" stroke-width="0.9"/>
<line x1="45" y1="760" x2="96" y2="704.5" stroke-width="0.9"/>
<rect x="99.5" y="701" width="3.0" height="3.5" stroke-width="0.9" fill="#fff"/>
<circle cx="146.8" cy="770.3" r="16.4" stroke-width="1.2"/>
<path d="M164.15,778.76 A19.3,19.3 0 1 1 141.48,751.75" stroke-width="4.2" stroke="#222" stroke-dasharray="5 0.7 2 0.6"/>
<circle cx="240" cy="770.3" r="16.4" stroke-width="1.2"/>
<path d="M245.32,751.75 A19.3,19.3 0 1 1 222.65,778.76" stroke-width="4.2" stroke="#222" stroke-dasharray="5 0.7 2 0.6"/>
<circle cx="193.2" cy="771.3" r="16" stroke-width="1.2"/>
<circle cx="193.2" cy="771.3" r="13.4" stroke-width="1.0"/>
<path d="M201,765 L193,766 Q188,767 185,770 M185,770 L190,765 M201,773 L193,773 Q188,773 184,776 M184,776 L190,777" stroke-width="1.0"/>
<path d="M188,763 L196,760 L199,763 M187,779 L193,782 L200,780" stroke-width="0.9"/>
<circle cx="198" cy="766" r="1.3" stroke-width="0.8" fill="#333"/>
<circle cx="198" cy="773" r="1.3" stroke-width="0.8" fill="#333"/>
<g><circle cx="133.5" cy="461.5" r="19.5" fill="#fff" stroke-width="1.0"/><path d="M118,467 Q120,457 133,456 Q145,456 151,462 L147,472 Q138,476 126,475 L120,472 Z" fill="#fff" stroke-width="1.1"/><path d="M116.5,462 L121,461 L122,482 L118.5,484.5 L115.5,481 Z" fill="#fff" stroke-width="1.1"/><path d="M130,476 L135,473 L143.5,501 L141,505.5 L137.5,503 Z" fill="#fff" stroke-width="1.1"/><path d="M145,456 L150.5,460 L117.5,508 L113,512 L109.5,509 L112,504 Z" fill="#fff" stroke-width="1.1"/><path d="M146,462 L152,466 L150,474 L145,471 Z" fill="#fff" stroke-width="1.0"/><circle cx="133.2" cy="450.5" r="5.3" fill="#fff" stroke-width="1.1"/><path d="M129,458 L133,464 L137,458" stroke-width="0.9"/></g>
<g transform="translate(0,1107.6) scale(1,-1)"><circle cx="133.5" cy="461.5" r="19.5" fill="#fff" stroke-width="1.0"/><path d="M118,467 Q120,457 133,456 Q145,456 151,462 L147,472 Q138,476 126,475 L120,472 Z" fill="#fff" stroke-width="1.1"/><path d="M116.5,462 L121,461 L122,482 L118.5,484.5 L115.5,481 Z" fill="#fff" stroke-width="1.1"/><path d="M130,476 L135,473 L143.5,501 L141,505.5 L137.5,503 Z" fill="#fff" stroke-width="1.1"/><path d="M145,456 L150.5,460 L117.5,508 L113,512 L109.5,509 L112,504 Z" fill="#fff" stroke-width="1.1"/><path d="M146,462 L152,466 L150,474 L145,471 Z" fill="#fff" stroke-width="1.0"/><circle cx="133.2" cy="450.5" r="5.3" fill="#fff" stroke-width="1.1"/><path d="M129,458 L133,464 L137,458" stroke-width="0.9"/></g>
<rect x="102.2" y="443" width="10.8" height="36" stroke-width="1.3" fill="#fff" rx="4"/>
<rect x="154" y="443" width="9.8" height="36" stroke-width="1.3" fill="#fff" rx="4"/>
<rect x="101.5" y="629.4" width="9.75" height="34.35" stroke-width="1.3" fill="#fff" rx="4"/>
<rect x="152.75" y="629.4" width="9.75" height="34.35" stroke-width="1.3" fill="#fff" rx="4"/>
<path d="M52,541 C55,535 62,533 70,536 L77,539 L77,568 L70,570 C62,572 55,568 52,560 Z" stroke-width="1.1" fill="#fff"/>
<path d="M77,539 L100,544 L109,546 C112,547 112,550 109,551 L100,551 L77,552 Z" stroke-width="1.1" fill="#fff"/>
<path d="M77,556 L96,561 L103,562 C107,563 107,566 103,567 L95,568 L77,569 Z" stroke-width="1.1" fill="#fff"/>
<path d="M64,543 L70,543 L71,552 L66,556 Z M63,562 L70,556 L74,561 L66,566 Z" stroke-width="0.9" fill="#fff"/>
<circle cx="55" cy="550" r="5" stroke-width="1.1" fill="#fff"/>
<line x1="90.5" y1="540" x2="90.5" y2="572" stroke-width="1.0"/>
</g>
</svg>
</body></html>
